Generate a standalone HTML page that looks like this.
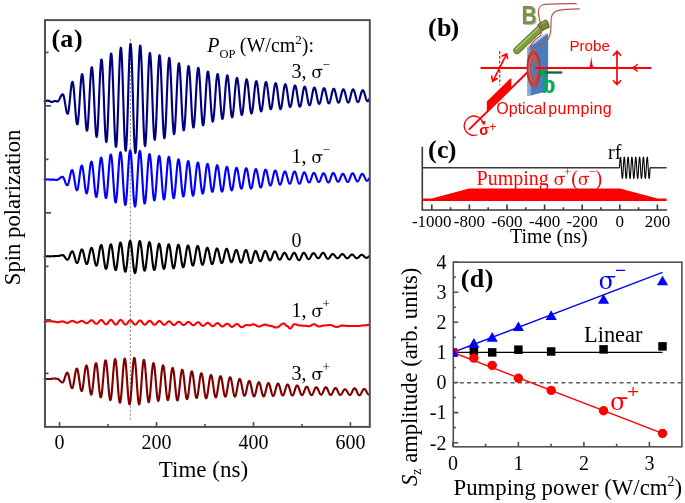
<!DOCTYPE html>
<html><head><meta charset="utf-8"><style>
html,body{margin:0;padding:0;background:#fff;}
svg{display:block;will-change:transform;}
</style></head><body>
<svg width="685" height="503" viewBox="0 0 685 503">
<rect width="685" height="503" fill="#fff"/>
<g fill="none" stroke-linejoin="round" stroke-linecap="round">
<line x1="130.4" y1="39.1" x2="130.4" y2="420.6" stroke="#8a8a8a" stroke-width="1.1" stroke-dasharray="2.1 1.885" stroke-linecap="butt"/>
<path d="M44.60 101.30L44.80 101.29 45.00 101.27 45.20 101.24 45.40 101.20 45.60 101.15 45.80 101.10 46.00 101.03 46.20 100.97 46.40 100.90 46.60 100.84 46.80 100.77 47.00 100.72 47.20 100.67 47.40 100.64 47.60 100.61 47.80 100.60 47.90 100.60 48.10 100.61 48.30 100.63 48.50 100.68 48.70 100.73 48.90 100.81 49.10 100.89 49.30 100.98 49.50 101.08 49.70 101.19 49.90 101.30 50.10 101.41 50.30 101.52 50.50 101.62 50.70 101.71 50.90 101.79 51.10 101.87 51.30 101.92 51.50 101.97 51.70 101.99 51.90 102.00 52.10 101.99 52.30 101.96 52.50 101.91 52.70 101.84 52.90 101.76 53.10 101.67 53.30 101.58 53.50 101.47 53.70 101.37 53.90 101.28 54.10 101.19 54.30 101.12 54.50 101.06 54.70 101.02 54.90 101.00 55.00 101.00 55.20 101.01 55.40 101.04 55.60 101.08 55.80 101.13 56.00 101.20 56.20 101.27 56.40 101.33 56.60 101.39 56.80 101.44 57.00 101.48 57.20 101.50 57.30 101.50 57.50 101.48 57.70 101.41 57.90 101.29 58.10 101.13 58.30 100.93 58.50 100.69 58.70 100.41 58.90 100.10 59.10 99.76 59.30 99.40 59.50 99.02 59.70 98.62 59.90 98.21 60.10 97.81 60.30 97.40 60.50 97.00 60.70 96.61 60.90 96.23 61.10 95.88 61.30 95.56 61.50 95.27 61.70 95.01 61.90 94.79 62.10 94.61 62.30 94.47 62.50 94.38 62.70 94.33 62.79 94.33 62.99 94.41 63.19 94.66 63.39 95.06 63.59 95.61 63.79 96.31 63.99 97.14 64.19 98.08 64.39 99.12 64.59 100.25 64.79 101.44 64.99 102.68 65.19 103.94 65.39 105.20 65.59 106.44 65.79 107.64 65.99 108.78 66.19 109.84 66.39 110.81 66.59 111.66 66.79 112.38 66.99 112.96 67.19 113.39 67.39 113.67 67.59 113.78 67.63 113.79 67.83 113.65 68.03 113.25 68.23 112.59 68.43 111.67 68.63 110.53 68.83 109.17 69.03 107.62 69.23 105.90 69.43 104.04 69.63 102.09 69.83 100.05 70.03 97.98 70.23 95.91 70.43 93.87 70.63 91.89 70.83 90.01 71.03 88.27 71.23 86.68 71.43 85.28 71.63 84.10 71.83 83.14 72.03 82.43 72.23 81.98 72.43 81.79 72.47 81.78 72.67 81.96 72.87 82.50 73.07 83.38 73.27 84.60 73.47 86.12 73.67 87.93 73.87 90.00 74.07 92.29 74.27 94.76 74.47 97.36 74.67 100.07 74.87 102.83 75.07 105.59 75.27 108.31 75.47 110.94 75.67 113.44 75.87 115.76 76.07 117.87 76.27 119.74 76.47 121.32 76.67 122.59 76.87 123.54 77.07 124.14 77.27 124.39 77.31 124.40 77.51 124.18 77.71 123.55 77.91 122.51 78.11 121.08 78.31 119.28 78.51 117.14 78.71 114.70 78.91 112.00 79.11 109.08 79.31 106.00 79.51 102.81 79.71 99.55 79.91 96.29 80.11 93.08 80.31 89.97 80.51 87.02 80.71 84.28 80.91 81.78 81.11 79.59 81.31 77.72 81.51 76.21 81.71 75.09 81.91 74.38 82.11 74.09 82.15 74.08 82.35 74.32 82.55 75.03 82.75 76.21 82.95 77.82 83.15 79.85 83.35 82.25 83.55 85.00 83.75 88.04 83.95 91.32 84.15 94.79 84.35 98.38 84.55 102.05 84.75 105.72 84.95 109.33 85.15 112.83 85.35 116.15 85.55 119.24 85.75 122.04 85.95 124.52 86.15 126.62 86.35 128.31 86.55 129.57 86.75 130.37 86.95 130.70 86.98 130.71 87.18 130.44 87.38 129.64 87.58 128.33 87.78 126.52 87.98 124.25 88.18 121.55 88.38 118.47 88.58 115.06 88.78 111.38 88.98 107.49 89.18 103.46 89.38 99.35 89.58 95.23 89.78 91.18 89.98 87.26 90.18 83.53 90.38 80.07 90.58 76.92 90.78 74.15 90.98 71.79 91.18 69.89 91.38 68.48 91.58 67.58 91.78 67.21 91.82 67.20 92.02 67.50 92.22 68.37 92.42 69.81 92.62 71.80 92.82 74.29 93.02 77.26 93.22 80.64 93.42 84.38 93.62 88.41 93.82 92.68 94.02 97.11 94.22 101.61 94.42 106.13 94.62 110.58 94.82 114.88 95.02 118.96 95.22 122.77 95.42 126.22 95.62 129.26 95.82 131.85 96.02 133.94 96.22 135.48 96.42 136.47 96.62 136.87 96.66 136.88 96.86 136.56 97.06 135.59 97.26 133.98 97.46 131.78 97.66 129.01 97.86 125.72 98.06 121.96 98.26 117.81 98.46 113.32 98.66 108.58 98.86 103.67 99.06 98.66 99.26 93.64 99.46 88.70 99.66 83.92 99.86 79.38 100.06 75.16 100.26 71.33 100.46 67.94 100.66 65.07 100.86 62.75 101.06 61.03 101.26 59.94 101.46 59.49 101.50 59.48 101.70 59.83 101.90 60.86 102.10 62.57 102.30 64.92 102.50 67.87 102.70 71.38 102.90 75.38 103.10 79.81 103.30 84.59 103.50 89.64 103.70 94.88 103.90 100.22 104.10 105.56 104.30 110.82 104.50 115.92 104.70 120.76 104.90 125.26 105.10 129.35 105.30 132.95 105.50 136.01 105.70 138.48 105.90 140.31 106.10 141.48 106.30 141.96 106.34 141.97 106.54 141.60 106.74 140.49 106.94 138.66 107.14 136.13 107.34 132.97 107.54 129.20 107.74 124.91 107.94 120.16 108.14 115.03 108.34 109.62 108.54 104.00 108.74 98.27 108.94 92.54 109.14 86.89 109.34 81.43 109.54 76.24 109.74 71.41 109.94 67.02 110.14 63.16 110.34 59.87 110.54 57.22 110.74 55.26 110.94 54.01 111.14 53.49 111.17 53.48 111.37 53.87 111.57 55.04 111.77 56.98 111.97 59.64 112.17 62.98 112.37 66.95 112.57 71.48 112.77 76.49 112.97 81.90 113.17 87.62 113.37 93.55 113.57 99.60 113.77 105.65 113.97 111.61 114.17 117.37 114.37 122.85 114.57 127.94 114.77 132.57 114.97 136.65 115.17 140.12 115.37 142.91 115.57 144.99 115.77 146.31 115.97 146.85 116.01 146.87 116.21 146.45 116.41 145.20 116.61 143.15 116.81 140.33 117.01 136.78 117.21 132.57 117.41 127.76 117.61 122.45 117.81 116.70 118.01 110.64 118.21 104.34 118.41 97.93 118.61 91.51 118.81 85.19 119.01 79.07 119.21 73.26 119.41 67.86 119.61 62.95 119.81 58.61 120.01 54.94 120.21 51.97 120.41 49.77 120.61 48.37 120.81 47.80 120.85 47.78 121.05 48.21 121.25 49.51 121.45 51.64 121.65 54.57 121.85 58.25 122.05 62.63 122.25 67.62 122.45 73.14 122.65 79.11 122.85 85.41 123.05 91.95 123.25 98.61 123.45 105.28 123.65 111.84 123.85 118.20 124.05 124.23 124.25 129.85 124.45 134.95 124.65 139.45 124.85 143.27 125.05 146.35 125.25 148.64 125.45 150.09 125.65 150.69 125.69 150.70 125.89 150.25 126.09 148.91 126.29 146.70 126.49 143.66 126.69 139.84 126.89 135.30 127.09 130.12 127.29 124.39 127.49 118.20 127.69 111.66 127.89 104.88 128.09 97.97 128.29 91.05 128.49 84.24 128.69 77.64 128.89 71.38 129.09 65.55 129.29 60.26 129.49 55.60 129.69 51.63 129.89 48.44 130.09 46.06 130.29 44.56 130.49 43.94 130.53 43.92 130.73 44.38 130.93 45.75 131.13 48.01 131.33 51.12 131.53 55.02 131.73 59.66 131.93 64.95 132.13 70.80 132.33 77.13 132.53 83.81 132.73 90.73 132.93 97.79 133.13 104.86 133.33 111.82 133.53 118.56 133.73 124.96 133.93 130.91 134.13 136.31 134.33 141.08 134.53 145.13 134.73 148.40 134.93 150.82 135.13 152.36 135.33 152.99 135.36 153.01 135.56 152.56 135.76 151.21 135.96 148.98 136.16 145.92 136.36 142.07 136.56 137.50 136.76 132.28 136.96 126.51 137.16 120.28 137.36 113.69 137.56 106.86 137.76 99.91 137.96 92.94 138.16 86.08 138.36 79.44 138.56 73.13 138.76 67.26 138.96 61.94 139.16 57.24 139.36 53.24 139.56 50.03 139.76 47.64 139.96 46.12 140.16 45.49 140.20 45.48 140.40 45.90 140.60 47.16 140.80 49.25 141.00 52.11 141.20 55.71 141.40 59.99 141.60 64.86 141.80 70.26 142.00 76.09 142.20 82.25 142.40 88.63 142.60 95.14 142.80 101.66 143.00 108.07 143.20 114.28 143.40 120.18 143.60 125.67 143.80 130.65 144.00 135.05 144.20 138.78 144.40 141.79 144.60 144.02 144.80 145.44 145.00 146.03 145.04 146.04 145.24 145.65 145.44 144.48 145.64 142.55 145.84 139.90 146.04 136.57 146.24 132.61 146.44 128.09 146.64 123.09 146.84 117.70 147.04 111.99 147.24 106.08 147.44 100.06 147.64 94.02 147.84 88.08 148.04 82.33 148.24 76.87 148.44 71.79 148.64 67.17 148.84 63.10 149.04 59.64 149.24 56.86 149.44 54.79 149.64 53.47 149.84 52.93 149.88 52.92 150.08 53.28 150.28 54.37 150.48 56.17 150.68 58.65 150.88 61.76 151.08 65.45 151.28 69.66 151.48 74.32 151.68 79.36 151.88 84.68 152.08 90.19 152.28 95.81 152.48 101.44 152.68 106.98 152.88 112.35 153.08 117.44 153.28 122.18 153.48 126.49 153.68 130.28 153.88 133.51 154.08 136.11 154.28 138.04 154.48 139.26 154.68 139.77 154.72 139.78 154.92 139.42 155.12 138.36 155.32 136.61 155.52 134.19 155.72 131.16 155.92 127.56 156.12 123.45 156.32 118.91 156.52 114.00 156.72 108.82 156.92 103.44 157.12 97.96 157.32 92.47 157.52 87.07 157.72 81.84 157.92 76.87 158.12 72.25 158.32 68.05 158.52 64.35 158.72 61.21 158.92 58.67 159.12 56.79 159.32 55.59 159.52 55.10 159.55 55.09 159.75 55.44 159.95 56.48 160.15 58.20 160.35 60.57 160.55 63.54 160.75 67.07 160.95 71.10 161.15 75.56 161.35 80.38 161.55 85.46 161.75 90.74 161.95 96.11 162.15 101.50 162.35 106.80 162.55 111.93 162.75 116.80 162.95 121.33 163.15 125.45 163.35 129.08 163.55 132.16 163.75 134.65 163.95 136.49 164.15 137.67 164.35 138.15 164.39 138.16 164.59 137.82 164.79 136.82 164.99 135.15 165.19 132.86 165.39 129.99 165.59 126.57 165.79 122.68 165.99 118.37 166.19 113.71 166.39 108.79 166.59 103.69 166.79 98.49 166.99 93.29 167.19 88.16 167.39 83.20 167.59 78.49 167.79 74.10 167.99 70.12 168.19 66.61 168.39 63.63 168.59 61.23 168.79 59.44 168.99 58.31 169.19 57.84 169.23 57.83 169.43 58.15 169.63 59.11 169.83 60.69 170.03 62.87 170.23 65.61 170.43 68.86 170.63 72.56 170.83 76.67 171.03 81.10 171.23 85.78 171.43 90.63 171.63 95.58 171.83 100.53 172.03 105.41 172.23 110.13 172.43 114.61 172.63 118.79 172.83 122.57 173.03 125.91 173.23 128.75 173.43 131.04 173.63 132.74 173.83 133.82 174.03 134.26 174.07 134.27 174.27 133.97 174.47 133.08 174.67 131.61 174.87 129.59 175.07 127.04 175.27 124.02 175.47 120.58 175.67 116.77 175.87 112.65 176.07 108.30 176.27 103.79 176.47 99.19 176.67 94.59 176.87 90.05 177.07 85.67 177.27 81.50 177.47 77.62 177.67 74.10 177.87 71.00 178.07 68.36 178.27 66.24 178.47 64.66 178.67 63.65 178.87 63.24 178.91 63.23 179.11 63.51 179.31 64.36 179.51 65.75 179.71 67.66 179.91 70.07 180.11 72.92 180.31 76.18 180.51 79.79 180.71 83.68 180.91 87.80 181.11 92.06 181.31 96.41 181.51 100.77 181.71 105.05 181.91 109.20 182.11 113.14 182.31 116.81 182.51 120.14 182.71 123.08 182.91 125.57 183.11 127.58 183.31 129.07 183.51 130.02 183.71 130.41 183.74 130.42 183.94 130.15 184.14 129.34 184.34 128.01 184.54 126.18 184.74 123.87 184.94 121.13 185.14 118.01 185.34 114.55 185.54 110.82 185.74 106.88 185.94 102.79 186.14 98.63 186.34 94.45 186.54 90.35 186.74 86.37 186.94 82.59 187.14 79.08 187.34 75.89 187.54 73.08 187.74 70.69 187.94 68.76 188.14 67.33 188.34 66.42 188.54 66.05 188.58 66.04 188.78 66.30 188.98 67.07 189.18 68.34 189.38 70.09 189.58 72.30 189.78 74.91 189.98 77.90 190.18 81.20 190.38 84.76 190.58 88.53 190.78 92.44 190.98 96.42 191.18 100.40 191.38 104.33 191.58 108.13 191.78 111.73 191.98 115.09 192.18 118.14 192.38 120.83 192.58 123.11 192.78 124.95 192.98 126.32 193.18 127.19 193.38 127.54 193.42 127.55 193.62 127.30 193.82 126.55 194.02 125.31 194.22 123.61 194.42 121.47 194.62 118.92 194.82 116.02 195.02 112.81 195.22 109.35 195.42 105.68 195.62 101.89 195.82 98.02 196.02 94.14 196.22 90.32 196.42 86.63 196.62 83.12 196.82 79.86 197.02 76.90 197.22 74.28 197.42 72.06 197.62 70.27 197.82 68.94 198.02 68.10 198.22 67.75 198.26 67.74 198.46 67.98 198.66 68.71 198.86 69.90 199.06 71.54 199.26 73.60 199.46 76.05 199.66 78.85 199.86 81.94 200.06 85.28 200.26 88.81 200.46 92.47 200.66 96.20 200.86 99.93 201.06 103.61 201.26 107.17 201.46 110.54 201.66 113.69 201.86 116.54 202.06 119.06 202.26 121.20 202.46 122.93 202.66 124.21 202.86 125.02 203.06 125.35 203.10 125.36 203.30 125.14 203.50 124.46 203.70 123.35 203.90 121.81 204.10 119.89 204.30 117.60 204.50 114.99 204.70 112.10 204.90 108.98 205.10 105.69 205.30 102.27 205.50 98.79 205.70 95.30 205.90 91.87 206.10 88.55 206.30 85.39 206.50 82.45 206.70 79.79 206.90 77.44 207.10 75.44 207.30 73.83 207.50 72.63 207.70 71.87 207.90 71.56 207.93 71.55 208.13 71.76 208.33 72.39 208.53 73.43 208.73 74.85 208.93 76.64 209.13 78.77 209.33 81.20 209.53 83.88 209.73 86.78 209.93 89.85 210.13 93.02 210.33 96.26 210.53 99.50 210.73 102.70 210.93 105.79 211.13 108.72 211.33 111.45 211.53 113.93 211.73 116.12 211.93 117.98 212.13 119.47 212.33 120.58 212.53 121.29 212.73 121.58 212.77 121.59 212.97 121.39 213.17 120.79 213.37 119.81 213.57 118.45 213.77 116.75 213.97 114.73 214.17 112.43 214.37 109.88 214.57 107.13 214.77 104.22 214.97 101.20 215.17 98.13 215.37 95.05 215.57 92.01 215.77 89.08 215.97 86.29 216.17 83.70 216.37 81.35 216.57 79.27 216.77 77.51 216.97 76.08 217.17 75.03 217.37 74.36 217.57 74.08 217.61 74.07 217.81 74.26 218.01 74.83 218.21 75.76 218.41 77.03 218.61 78.64 218.81 80.54 219.01 82.72 219.21 85.13 219.41 87.72 219.61 90.47 219.81 93.32 220.01 96.22 220.21 99.12 220.41 101.98 220.61 104.75 220.81 107.38 221.01 109.83 221.21 112.05 221.41 114.01 221.61 115.68 221.81 117.02 222.01 118.01 222.21 118.65 222.41 118.91 222.45 118.91 222.65 118.73 222.85 118.18 223.05 117.28 223.25 116.04 223.45 114.48 223.65 112.63 223.85 110.52 224.05 108.18 224.25 105.66 224.45 102.99 224.65 100.22 224.85 97.41 225.05 94.58 225.25 91.80 225.45 89.12 225.65 86.56 225.85 84.18 226.05 82.03 226.25 80.12 226.45 78.51 226.65 77.20 226.85 76.24 227.05 75.62 227.25 75.37 227.29 75.36 227.49 75.54 227.69 76.06 227.89 76.93 228.09 78.12 228.29 79.62 228.49 81.40 228.69 83.43 228.89 85.68 229.09 88.11 229.29 90.67 229.49 93.33 229.69 96.04 229.89 98.75 230.09 101.42 230.29 104.01 230.49 106.46 230.69 108.75 230.89 110.82 231.09 112.65 231.29 114.21 231.49 115.46 231.69 116.39 231.89 116.98 232.09 117.22 232.12 117.23 232.32 117.06 232.52 116.57 232.72 115.75 232.92 114.63 233.12 113.22 233.32 111.55 233.52 109.64 233.72 107.52 233.92 105.24 234.12 102.83 234.32 100.33 234.52 97.78 234.72 95.22 234.92 92.71 235.12 90.28 235.32 87.97 235.52 85.82 235.72 83.87 235.92 82.15 236.12 80.68 236.32 79.50 236.52 78.63 236.72 78.07 236.92 77.84 236.96 77.84 237.16 77.99 237.36 78.46 237.56 79.23 237.76 80.28 237.96 81.61 238.16 83.19 238.36 84.99 238.56 86.98 238.76 89.13 238.96 91.40 239.16 93.75 239.36 96.15 239.56 98.56 239.76 100.92 239.96 103.21 240.16 105.39 240.36 107.41 240.56 109.25 240.76 110.87 240.96 112.25 241.16 113.36 241.36 114.18 241.56 114.70 241.76 114.92 241.80 114.92 242.00 114.77 242.20 114.33 242.40 113.59 242.60 112.58 242.80 111.30 243.00 109.79 243.20 108.07 243.40 106.16 243.60 104.09 243.80 101.92 244.00 99.66 244.20 97.35 244.40 95.05 244.60 92.78 244.80 90.58 245.00 88.49 245.20 86.55 245.40 84.79 245.60 83.24 245.80 81.91 246.00 80.85 246.20 80.06 246.40 79.56 246.60 79.35 246.64 79.34 246.84 79.49 247.04 79.92 247.24 80.63 247.44 81.60 247.64 82.82 247.84 84.28 248.04 85.93 248.24 87.77 248.44 89.75 248.64 91.84 248.84 94.02 249.04 96.23 249.24 98.44 249.44 100.62 249.64 102.74 249.84 104.74 250.04 106.61 250.24 108.30 250.44 109.79 250.64 111.06 250.84 112.09 251.04 112.85 251.24 113.33 251.44 113.53 251.48 113.53 251.68 113.40 251.88 112.99 252.08 112.32 252.28 111.40 252.48 110.24 252.68 108.86 252.88 107.29 253.08 105.56 253.28 103.68 253.48 101.70 253.68 99.64 253.88 97.55 254.08 95.45 254.28 93.39 254.48 91.39 254.68 89.49 254.88 87.72 255.08 86.12 255.28 84.70 255.48 83.50 255.68 82.53 255.88 81.81 256.08 81.36 256.28 81.17 256.31 81.16 256.51 81.29 256.71 81.67 256.91 82.30 257.11 83.15 257.31 84.23 257.51 85.52 257.71 86.98 257.91 88.60 258.11 90.35 258.31 92.20 258.51 94.11 258.71 96.06 258.91 98.02 259.11 99.94 259.31 101.81 259.51 103.58 259.71 105.22 259.91 106.72 260.11 108.03 260.31 109.16 260.51 110.06 260.71 110.73 260.91 111.15 261.11 111.33 261.15 111.33 261.35 111.21 261.55 110.84 261.75 110.23 261.95 109.40 262.15 108.35 262.35 107.10 262.55 105.68 262.75 104.10 262.95 102.40 263.15 100.61 263.35 98.75 263.55 96.85 263.75 94.95 263.95 93.07 264.15 91.26 264.35 89.54 264.55 87.94 264.75 86.49 264.95 85.21 265.15 84.12 265.35 83.24 265.55 82.59 265.75 82.17 265.95 82.00 265.99 82.00 266.19 82.11 266.39 82.46 266.59 83.02 266.79 83.80 266.99 84.77 267.19 85.93 267.39 87.25 267.59 88.71 267.79 90.29 267.99 91.96 268.19 93.69 268.39 95.45 268.59 97.22 268.79 98.95 268.99 100.64 269.19 102.23 269.39 103.72 269.59 105.07 269.79 106.26 269.99 107.27 270.19 108.09 270.39 108.69 270.59 109.07 270.79 109.23 270.83 109.24 271.03 109.13 271.23 108.80 271.43 108.26 271.63 107.52 271.83 106.58 272.03 105.48 272.23 104.21 272.43 102.81 272.63 101.30 272.83 99.71 273.03 98.05 273.23 96.37 273.43 94.68 273.63 93.01 273.83 91.40 274.03 89.87 274.23 88.45 274.43 87.16 274.63 86.02 274.83 85.05 275.03 84.27 275.23 83.70 275.43 83.33 275.63 83.18 275.67 83.17 275.87 83.28 276.07 83.61 276.27 84.15 276.47 84.89 276.67 85.82 276.87 86.93 277.07 88.19 277.27 89.59 277.47 91.09 277.67 92.69 277.87 94.34 278.07 96.02 278.27 97.71 278.47 99.37 278.67 100.98 278.87 102.51 279.07 103.93 279.27 105.22 279.47 106.35 279.67 107.32 279.87 108.10 280.07 108.68 280.27 109.04 280.47 109.20 280.50 109.20 280.70 109.09 280.90 108.78 281.10 108.26 281.30 107.55 281.50 106.65 281.70 105.59 281.90 104.38 282.10 103.04 282.30 101.59 282.50 100.06 282.70 98.47 282.90 96.85 283.10 95.23 283.30 93.63 283.50 92.09 283.70 90.62 283.90 89.26 284.10 88.02 284.30 86.93 284.50 86.00 284.70 85.25 284.90 84.70 285.10 84.34 285.30 84.20 285.34 84.19 285.54 84.29 285.74 84.58 285.94 85.05 286.14 85.70 286.34 86.52 286.54 87.48 286.74 88.59 286.94 89.82 287.14 91.14 287.34 92.53 287.54 93.98 287.74 95.46 287.94 96.94 288.14 98.39 288.34 99.80 288.54 101.14 288.74 102.38 288.94 103.51 289.14 104.51 289.34 105.36 289.54 106.04 289.74 106.55 289.94 106.87 290.14 107.00 290.18 107.00 290.38 106.91 290.58 106.64 290.78 106.20 290.98 105.59 291.18 104.82 291.38 103.90 291.58 102.86 291.78 101.71 291.98 100.46 292.18 99.14 292.38 97.78 292.58 96.39 292.78 94.99 292.98 93.62 293.18 92.29 293.38 91.03 293.58 89.86 293.78 88.79 293.98 87.85 294.18 87.06 294.38 86.41 294.58 85.93 294.78 85.63 294.98 85.51 295.02 85.50 295.22 85.59 295.42 85.86 295.62 86.30 295.82 86.90 296.02 87.66 296.22 88.56 296.42 89.59 296.62 90.72 296.82 91.95 297.02 93.25 297.22 94.60 297.42 95.97 297.62 97.34 297.82 98.69 298.02 100.00 298.22 101.24 298.42 102.40 298.62 103.45 298.82 104.37 299.02 105.16 299.22 105.80 299.42 106.27 299.62 106.57 299.82 106.69 299.86 106.69 300.06 106.61 300.26 106.36 300.46 105.94 300.66 105.37 300.86 104.65 301.06 103.80 301.26 102.83 301.46 101.76 301.66 100.60 301.86 99.37 302.06 98.10 302.26 96.80 302.46 95.50 302.66 94.23 302.86 92.99 303.06 91.81 303.26 90.72 303.46 89.73 303.66 88.85 303.86 88.11 304.06 87.51 304.26 87.07 304.46 86.78 304.66 86.67 304.69 86.66 304.89 86.74 305.09 86.98 305.29 87.36 305.49 87.89 305.69 88.56 305.89 89.35 306.09 90.25 306.29 91.25 306.49 92.33 306.69 93.47 306.89 94.65 307.09 95.85 307.29 97.06 307.49 98.24 307.69 99.39 307.89 100.48 308.09 101.50 308.29 102.42 308.49 103.23 308.69 103.92 308.89 104.48 309.09 104.89 309.29 105.16 309.49 105.26 309.53 105.27 309.73 105.19 309.93 104.97 310.13 104.60 310.33 104.09 310.53 103.46 310.73 102.70 310.93 101.84 311.13 100.89 311.33 99.86 311.53 98.77 311.73 97.64 311.93 96.50 312.13 95.34 312.33 94.21 312.53 93.11 312.73 92.07 312.93 91.10 313.13 90.22 313.33 89.45 313.53 88.79 313.73 88.26 313.93 87.86 314.13 87.61 314.33 87.51 314.37 87.50 314.57 87.57 314.77 87.78 314.97 88.12 315.17 88.59 315.37 89.17 315.57 89.87 315.77 90.66 315.97 91.54 316.17 92.49 316.37 93.50 316.57 94.54 316.77 95.60 316.97 96.66 317.17 97.70 317.37 98.71 317.57 99.68 317.77 100.57 317.97 101.38 318.17 102.10 318.37 102.71 318.57 103.20 318.77 103.56 318.97 103.79 319.17 103.89 319.21 103.89 319.41 103.82 319.61 103.63 319.81 103.30 320.01 102.85 320.21 102.29 320.41 101.62 320.61 100.86 320.81 100.02 321.01 99.11 321.21 98.14 321.41 97.15 321.61 96.13 321.81 95.11 322.01 94.11 322.21 93.14 322.41 92.22 322.61 91.36 322.81 90.58 323.01 89.89 323.21 89.31 323.41 88.84 323.61 88.49 323.81 88.27 324.01 88.18 324.05 88.18 324.25 88.24 324.45 88.43 324.65 88.75 324.85 89.18 325.05 89.72 325.25 90.37 325.45 91.11 325.65 91.93 325.85 92.81 326.05 93.74 326.25 94.71 326.45 95.69 326.65 96.68 326.85 97.65 327.05 98.59 327.25 99.48 327.45 100.31 327.65 101.06 327.85 101.73 328.05 102.29 328.25 102.75 328.45 103.09 328.65 103.30 328.85 103.39 328.88 103.39 329.08 103.33 329.28 103.15 329.48 102.84 329.68 102.42 329.88 101.90 330.08 101.27 330.28 100.56 330.48 99.77 330.68 98.92 330.88 98.02 331.08 97.09 331.28 96.14 331.48 95.19 331.68 94.25 331.88 93.34 332.08 92.48 332.28 91.68 332.48 90.95 332.68 90.31 332.88 89.76 333.08 89.32 333.28 89.00 333.48 88.79 333.68 88.70 333.72 88.70 333.92 88.76 334.12 88.93 334.32 89.22 334.52 89.62 334.72 90.12 334.92 90.71 335.12 91.38 335.32 92.13 335.52 92.93 335.72 93.78 335.92 94.67 336.12 95.56 336.32 96.47 336.52 97.35 336.72 98.21 336.92 99.03 337.12 99.78 337.32 100.47 337.52 101.08 337.72 101.60 337.92 102.01 338.12 102.32 338.32 102.52 338.52 102.60 338.56 102.60 338.76 102.54 338.96 102.38 339.16 102.10 339.36 101.72 339.56 101.25 339.76 100.68 339.96 100.04 340.16 99.32 340.36 98.55 340.56 97.74 340.76 96.89 340.96 96.03 341.16 95.17 341.36 94.32 341.56 93.50 341.76 92.72 341.96 91.99 342.16 91.34 342.36 90.75 342.56 90.26 342.76 89.86 342.96 89.57 343.16 89.38 343.36 89.30 343.40 89.30 343.60 89.36 343.80 89.52 344.00 89.80 344.20 90.18 344.40 90.65 344.60 91.21 344.80 91.86 345.00 92.57 345.20 93.34 345.40 94.15 345.60 95.00 345.80 95.85 346.00 96.71 346.20 97.56 346.40 98.38 346.60 99.16 346.80 99.88 347.00 100.54 347.20 101.12 347.40 101.61 347.60 102.01 347.80 102.31 348.00 102.49 348.20 102.57 348.24 102.57 348.44 102.52 348.64 102.35 348.84 102.08 349.04 101.70 349.24 101.23 349.44 100.66 349.64 100.02 349.84 99.31 350.04 98.55 350.24 97.74 350.44 96.90 350.64 96.04 350.84 95.19 351.04 94.34 351.24 93.53 351.44 92.75 351.64 92.03 351.84 91.38 352.04 90.80 352.24 90.31 352.44 89.91 352.64 89.62 352.84 89.43 353.04 89.36 353.07 89.35 353.27 89.41 353.47 89.57 353.67 89.83 353.87 90.19 354.07 90.65 354.27 91.18 354.47 91.80 354.67 92.48 354.87 93.22 355.07 93.99 355.27 94.80 355.47 95.62 355.67 96.45 355.87 97.26 356.07 98.04 356.27 98.78 356.47 99.48 356.67 100.11 356.87 100.66 357.07 101.13 357.27 101.51 357.47 101.79 357.67 101.97 357.87 102.05 357.91 102.05 358.11 102.00 358.31 101.85 358.51 101.61 358.71 101.27 358.91 100.85 359.11 100.34 359.31 99.77 359.51 99.14 359.71 98.45 359.91 97.73 360.11 96.98 360.31 96.21 360.51 95.45 360.71 94.69 360.91 93.97 361.11 93.27 361.31 92.63 361.51 92.04 361.71 91.53 361.91 91.09 362.11 90.73 362.31 90.47 362.51 90.30 362.71 90.24 362.75 90.23 362.95 90.28 363.15 90.42 363.35 90.65 363.55 90.96 363.75 91.36 363.95 91.83 364.15 92.36 364.35 92.96 364.55 93.60 364.75 94.27 364.95 94.98 365.15 95.69 365.35 96.41 365.55 97.11 365.75 97.79 365.95 98.44 366.15 99.04 366.35 99.59 366.55 100.07 366.75 100.48 366.95 100.81 367.15 101.06 367.35 101.22 367.55 101.28 367.59 101.28 367.79 101.24 367.99 101.11 368.19 100.89 368.39 100.59 368.59 100.22 368.79 99.78 368.99 99.27" stroke="#00007f" stroke-width="2.15"/>
<path d="M44.60 179.40L44.80 179.40 45.00 179.40 45.20 179.40 45.40 179.41 45.60 179.41 45.80 179.41 46.00 179.42 46.20 179.42 46.40 179.43 46.60 179.43 46.80 179.44 47.00 179.45 47.20 179.45 47.40 179.46 47.60 179.47 47.80 179.48 48.00 179.49 48.20 179.50 48.40 179.50 48.60 179.51 48.80 179.52 49.00 179.53 49.20 179.54 49.40 179.55 49.60 179.55 49.80 179.56 50.00 179.57 50.20 179.57 50.40 179.58 50.60 179.58 50.80 179.59 51.00 179.59 51.20 179.59 51.40 179.60 51.60 179.60 51.80 179.60 52.00 179.60 52.20 179.60 52.40 179.61 52.60 179.61 52.80 179.62 53.00 179.63 53.20 179.64 53.40 179.66 53.60 179.68 53.80 179.69 54.00 179.71 54.20 179.73 54.40 179.75 54.60 179.77 54.80 179.79 55.00 179.81 55.20 179.83 55.40 179.84 55.60 179.86 55.80 179.87 56.00 179.88 56.20 179.89 56.40 179.89 56.60 179.90 56.80 179.90 57.00 179.89 57.20 179.86 57.40 179.81 57.60 179.75 57.80 179.66 58.00 179.56 58.20 179.45 58.40 179.32 58.60 179.18 58.80 179.02 59.00 178.86 59.20 178.70 59.40 178.52 59.60 178.35 59.80 178.17 60.00 178.00 60.20 177.83 60.40 177.67 60.60 177.51 60.80 177.37 61.00 177.24 61.20 177.12 61.40 177.01 61.60 176.92 61.80 176.85 62.00 176.80 62.20 176.76 62.40 176.74 62.46 176.74 62.66 176.78 62.86 176.89 63.06 177.06 63.26 177.31 63.46 177.61 63.66 177.97 63.86 178.39 64.06 178.84 64.26 179.34 64.46 179.86 64.66 180.40 64.86 180.95 65.06 181.50 65.26 182.04 65.46 182.57 65.66 183.07 65.86 183.53 66.06 183.95 66.26 184.33 66.46 184.64 66.66 184.90 66.86 185.08 67.06 185.20 67.26 185.25 67.30 185.25 67.50 185.19 67.70 185.00 67.90 184.68 68.10 184.25 68.30 183.71 68.50 183.06 68.70 182.33 68.90 181.51 69.10 180.63 69.30 179.70 69.50 178.74 69.70 177.76 69.90 176.77 70.10 175.81 70.30 174.87 70.50 173.98 70.70 173.15 70.90 172.40 71.10 171.74 71.30 171.17 71.50 170.72 71.70 170.39 71.90 170.17 72.10 170.09 72.13 170.08 72.33 170.17 72.53 170.42 72.73 170.84 72.93 171.41 73.13 172.14 73.33 172.99 73.53 173.97 73.73 175.05 73.93 176.22 74.13 177.45 74.33 178.73 74.53 180.04 74.73 181.34 74.93 182.63 75.13 183.87 75.33 185.05 75.53 186.15 75.73 187.15 75.93 188.03 76.13 188.77 76.33 189.38 76.53 189.82 76.73 190.10 76.93 190.22 76.97 190.22 77.17 190.12 77.37 189.81 77.57 189.30 77.77 188.59 77.97 187.71 78.17 186.66 78.37 185.46 78.57 184.14 78.77 182.71 78.97 181.20 79.17 179.63 79.37 178.03 79.57 176.43 79.77 174.86 79.97 173.34 80.17 171.89 80.37 170.54 80.57 169.32 80.77 168.24 80.97 167.33 81.17 166.59 81.37 166.05 81.57 165.70 81.77 165.56 81.80 165.56 82.00 165.67 82.20 166.02 82.40 166.60 82.60 167.40 82.80 168.39 83.00 169.58 83.20 170.93 83.40 172.43 83.60 174.04 83.80 175.75 84.00 177.52 84.20 179.32 84.40 181.13 84.60 182.91 84.80 184.63 85.00 186.26 85.20 187.78 85.40 189.16 85.60 190.38 85.80 191.41 86.00 192.24 86.20 192.86 86.40 193.25 86.60 193.41 86.64 193.41 86.84 193.28 87.04 192.88 87.24 192.22 87.44 191.31 87.64 190.17 87.84 188.82 88.04 187.27 88.24 185.56 88.44 183.72 88.64 181.77 88.84 179.75 89.04 177.68 89.24 175.62 89.44 173.59 89.64 171.62 89.84 169.76 90.04 168.02 90.24 166.44 90.44 165.05 90.64 163.87 90.84 162.92 91.04 162.22 91.24 161.77 91.44 161.59 91.48 161.59 91.68 161.74 91.88 162.18 92.08 162.91 92.28 163.92 92.48 165.19 92.68 166.69 92.88 168.41 93.08 170.30 93.28 172.35 93.48 174.52 93.68 176.77 93.88 179.05 94.08 181.35 94.28 183.60 94.48 185.78 94.68 187.86 94.88 189.79 95.08 191.54 95.28 193.08 95.48 194.39 95.68 195.45 95.88 196.23 96.08 196.72 96.28 196.93 96.31 196.93 96.51 196.77 96.71 196.27 96.91 195.46 97.11 194.34 97.31 192.93 97.51 191.25 97.71 189.35 97.91 187.23 98.11 184.96 98.31 182.55 98.51 180.05 98.71 177.50 98.91 174.95 99.11 172.45 99.31 170.02 99.51 167.71 99.71 165.57 99.91 163.62 100.11 161.90 100.31 160.45 100.51 159.27 100.71 158.40 100.91 157.85 101.11 157.63 101.15 157.62 101.35 157.79 101.55 158.30 101.75 159.14 101.95 160.29 102.15 161.74 102.35 163.47 102.55 165.43 102.75 167.60 102.95 169.95 103.15 172.43 103.35 175.00 103.55 177.62 103.75 180.25 103.95 182.83 104.15 185.33 104.35 187.71 104.55 189.91 104.75 191.92 104.95 193.69 105.15 195.19 105.35 196.40 105.55 197.29 105.75 197.86 105.95 198.09 105.98 198.10 106.18 197.91 106.38 197.37 106.58 196.46 106.78 195.22 106.98 193.66 107.18 191.80 107.38 189.69 107.58 187.34 107.78 184.81 107.98 182.14 108.18 179.37 108.38 176.55 108.58 173.72 108.78 170.94 108.98 168.25 109.18 165.69 109.38 163.31 109.58 161.15 109.78 159.25 109.98 157.63 110.18 156.33 110.38 155.36 110.58 154.75 110.78 154.50 110.82 154.50 111.02 154.70 111.22 155.30 111.42 156.30 111.62 157.66 111.82 159.38 112.02 161.43 112.22 163.76 112.42 166.33 112.62 169.12 112.82 172.06 113.02 175.11 113.22 178.21 113.42 181.33 113.62 184.39 113.82 187.35 114.02 190.17 114.22 192.79 114.42 195.16 114.62 197.26 114.82 199.04 115.02 200.47 115.22 201.53 115.42 202.21 115.62 202.48 115.65 202.49 115.85 202.28 116.05 201.64 116.25 200.60 116.45 199.16 116.65 197.36 116.85 195.22 117.05 192.77 117.25 190.07 117.45 187.15 117.65 184.06 117.85 180.86 118.05 177.60 118.25 174.33 118.45 171.12 118.65 168.01 118.85 165.06 119.05 162.31 119.25 159.81 119.45 157.61 119.65 155.75 119.85 154.24 120.05 153.13 120.25 152.42 120.45 152.13 120.49 152.13 120.69 152.35 120.89 153.01 121.09 154.11 121.29 155.62 121.49 157.51 121.69 159.76 121.89 162.32 122.09 165.16 122.29 168.23 122.49 171.47 122.69 174.83 122.89 178.25 123.09 181.67 123.29 185.05 123.49 188.31 123.69 191.41 123.89 194.30 124.09 196.91 124.29 199.22 124.49 201.18 124.69 202.76 124.89 203.93 125.09 204.67 125.29 204.97 125.33 204.98 125.53 204.75 125.73 204.06 125.93 202.93 126.13 201.37 126.33 199.40 126.53 197.07 126.73 194.42 126.93 191.48 127.13 188.30 127.33 184.94 127.53 181.47 127.73 177.92 127.93 174.37 128.13 170.88 128.33 167.49 128.53 164.28 128.73 161.30 128.93 158.59 129.13 156.19 129.33 154.16 129.53 152.53 129.73 151.32 129.93 150.55 130.13 150.23 130.16 150.23 130.36 150.46 130.56 151.17 130.76 152.34 130.96 153.95 131.16 155.97 131.36 158.36 131.56 161.10 131.76 164.12 131.96 167.39 132.16 170.84 132.36 174.43 132.56 178.07 132.76 181.72 132.96 185.32 133.16 188.80 133.36 192.11 133.56 195.18 133.76 197.97 133.96 200.43 134.16 202.52 134.36 204.20 134.56 205.45 134.76 206.24 134.96 206.56 135.00 206.57 135.20 206.34 135.40 205.64 135.60 204.48 135.80 202.89 136.00 200.90 136.20 198.53 136.40 195.83 136.60 192.84 136.80 189.61 137.00 186.20 137.20 182.66 137.40 179.06 137.60 175.45 137.80 171.89 138.00 168.45 138.20 165.19 138.40 162.15 138.60 159.39 138.80 156.96 139.00 154.90 139.20 153.24 139.40 152.00 139.60 151.22 139.80 150.90 139.83 150.90 140.03 151.12 140.23 151.78 140.43 152.87 140.63 154.37 140.83 156.26 141.03 158.50 141.23 161.06 141.43 163.89 141.63 166.94 141.83 170.17 142.03 173.52 142.23 176.93 142.43 180.34 142.63 183.71 142.83 186.96 143.03 190.05 143.23 192.92 143.43 195.53 143.63 197.83 143.83 199.78 144.03 201.36 144.23 202.52 144.43 203.26 144.63 203.56 144.67 203.57 144.87 203.36 145.07 202.74 145.27 201.72 145.47 200.30 145.67 198.53 145.87 196.42 146.07 194.02 146.27 191.36 146.47 188.49 146.67 185.46 146.87 182.31 147.07 179.11 147.27 175.90 147.47 172.74 147.67 169.68 147.87 166.78 148.07 164.08 148.27 161.62 148.47 159.46 148.67 157.63 148.87 156.15 149.07 155.05 149.27 154.36 149.47 154.07 149.50 154.07 149.70 154.26 149.90 154.84 150.10 155.80 150.30 157.12 150.50 158.78 150.70 160.75 150.90 162.99 151.10 165.48 151.30 168.16 151.50 170.99 151.70 173.93 151.90 176.93 152.10 179.92 152.30 182.88 152.50 185.73 152.70 188.45 152.90 190.97 153.10 193.26 153.30 195.28 153.50 197.00 153.70 198.38 153.90 199.40 154.10 200.05 154.30 200.31 154.34 200.32 154.54 200.13 154.74 199.57 154.94 198.65 155.14 197.39 155.34 195.79 155.54 193.90 155.74 191.75 155.94 189.36 156.14 186.78 156.34 184.06 156.54 181.23 156.74 178.36 156.94 175.47 157.14 172.64 157.34 169.89 157.54 167.29 157.74 164.86 157.94 162.66 158.14 160.72 158.34 159.07 158.54 157.74 158.74 156.76 158.94 156.14 159.14 155.88 159.18 155.88 159.38 156.06 159.58 156.61 159.78 157.51 159.98 158.75 160.18 160.31 160.38 162.16 160.58 164.27 160.78 166.61 160.98 169.14 161.18 171.80 161.38 174.57 161.58 177.39 161.78 180.21 161.98 182.99 162.18 185.67 162.38 188.23 162.58 190.60 162.78 192.76 162.98 194.66 163.18 196.27 163.38 197.57 163.58 198.53 163.78 199.14 163.98 199.39 164.01 199.40 164.21 199.22 164.41 198.68 164.61 197.80 164.81 196.59 165.01 195.06 165.21 193.25 165.41 191.18 165.61 188.89 165.81 186.42 166.01 183.81 166.21 181.10 166.41 178.34 166.61 175.58 166.81 172.86 167.01 170.23 167.21 167.73 167.41 165.41 167.61 163.30 167.81 161.44 168.01 159.86 168.21 158.59 168.41 157.64 168.61 157.04 168.81 156.80 168.85 156.79 169.05 156.97 169.25 157.49 169.45 158.35 169.65 159.53 169.85 161.02 170.05 162.78 170.25 164.79 170.45 167.02 170.65 169.42 170.85 171.96 171.05 174.59 171.25 177.27 171.45 179.96 171.65 182.60 171.85 185.16 172.05 187.59 172.25 189.85 172.45 191.91 172.65 193.72 172.85 195.25 173.05 196.49 173.25 197.41 173.45 197.99 173.65 198.23 173.68 198.23 173.88 198.07 174.08 197.58 174.28 196.77 174.48 195.67 174.68 194.28 174.88 192.62 175.08 190.74 175.28 188.65 175.48 186.40 175.68 184.02 175.88 181.56 176.08 179.04 176.28 176.52 176.48 174.05 176.68 171.65 176.88 169.37 177.08 167.25 177.28 165.33 177.48 163.63 177.68 162.19 177.88 161.04 178.08 160.18 178.28 159.63 178.48 159.41 178.52 159.40 178.72 159.56 178.92 160.03 179.12 160.79 179.32 161.85 179.52 163.18 179.72 164.76 179.92 166.56 180.12 168.55 180.32 170.70 180.52 172.98 180.72 175.33 180.92 177.73 181.12 180.14 181.32 182.51 181.52 184.80 181.72 186.97 181.92 189.00 182.12 190.83 182.32 192.45 182.52 193.83 182.72 194.94 182.92 195.76 183.12 196.28 183.32 196.49 183.35 196.50 183.55 196.35 183.75 195.90 183.95 195.17 184.15 194.16 184.35 192.89 184.55 191.38 184.75 189.67 184.95 187.76 185.15 185.71 185.35 183.54 185.55 181.29 185.75 179.00 185.95 176.71 186.15 174.45 186.35 172.26 186.55 170.19 186.75 168.25 186.95 166.50 187.15 164.96 187.35 163.64 187.55 162.59 187.75 161.80 187.95 161.31 188.15 161.10 188.19 161.10 188.39 161.24 188.59 161.68 188.79 162.39 188.99 163.38 189.19 164.62 189.39 166.09 189.59 167.77 189.79 169.63 189.99 171.63 190.19 173.75 190.39 175.95 190.59 178.19 190.79 180.43 190.99 182.63 191.19 184.77 191.39 186.80 191.59 188.68 191.79 190.40 191.99 191.90 192.19 193.19 192.39 194.22 192.59 194.98 192.79 195.47 192.99 195.67 193.02 195.67 193.22 195.53 193.42 195.12 193.62 194.43 193.82 193.48 194.02 192.29 194.22 190.88 194.42 189.27 194.62 187.49 194.82 185.57 195.02 183.54 195.22 181.43 195.42 179.28 195.62 177.13 195.82 175.02 196.02 172.97 196.22 171.02 196.42 169.21 196.62 167.57 196.82 166.12 197.02 164.89 197.22 163.90 197.42 163.17 197.62 162.70 197.82 162.51 197.86 162.51 198.06 162.64 198.26 163.03 198.46 163.67 198.66 164.56 198.86 165.67 199.06 166.99 199.26 168.50 199.46 170.17 199.66 171.97 199.86 173.87 200.06 175.85 200.26 177.86 200.46 179.87 200.66 181.85 200.86 183.77 201.06 185.59 201.26 187.29 201.46 188.82 201.66 190.18 201.86 191.33 202.06 192.26 202.26 192.95 202.46 193.38 202.66 193.56 202.70 193.56 202.90 193.44 203.10 193.06 203.30 192.45 203.50 191.60 203.70 190.53 203.90 189.27 204.10 187.82 204.30 186.23 204.50 184.50 204.70 182.68 204.90 180.79 205.10 178.86 205.30 176.94 205.50 175.04 205.70 173.20 205.90 171.46 206.10 169.83 206.30 168.36 206.50 167.06 206.70 165.96 206.90 165.07 207.10 164.41 207.30 163.99 207.50 163.82 207.53 163.82 207.73 163.94 207.93 164.29 208.13 164.87 208.33 165.67 208.53 166.67 208.73 167.86 208.93 169.22 209.13 170.72 209.33 172.34 209.53 174.06 209.73 175.83 209.93 177.65 210.13 179.46 210.33 181.25 210.53 182.97 210.73 184.61 210.93 186.14 211.13 187.53 211.33 188.75 211.53 189.79 211.73 190.62 211.93 191.24 212.13 191.63 212.33 191.79 212.37 191.80 212.57 191.68 212.77 191.35 212.97 190.80 213.17 190.04 213.37 189.09 213.57 187.96 213.77 186.67 213.97 185.24 214.17 183.70 214.37 182.07 214.57 180.38 214.77 178.66 214.97 176.94 215.17 175.24 215.37 173.60 215.57 172.04 215.77 170.59 215.97 169.27 216.17 168.11 216.37 167.13 216.57 166.33 216.77 165.75 216.97 165.37 217.17 165.22 217.20 165.22 217.40 165.33 217.60 165.66 217.80 166.21 218.00 166.96 218.20 167.90 218.40 169.02 218.60 170.30 218.80 171.72 219.00 173.25 219.20 174.86 219.40 176.54 219.60 178.24 219.80 179.95 220.00 181.63 220.20 183.26 220.40 184.81 220.60 186.24 220.80 187.55 221.00 188.70 221.20 189.68 221.40 190.46 221.60 191.05 221.80 191.42 222.00 191.57 222.04 191.57 222.24 191.47 222.44 191.15 222.64 190.64 222.84 189.94 223.04 189.05 223.24 188.00 223.44 186.79 223.64 185.46 223.84 184.03 224.04 182.51 224.24 180.94 224.44 179.34 224.64 177.73 224.84 176.15 225.04 174.62 225.24 173.17 225.44 171.82 225.64 170.60 225.84 169.52 226.04 168.60 226.24 167.86 226.44 167.31 226.64 166.96 226.84 166.82 226.87 166.82 227.07 166.92 227.27 167.21 227.47 167.70 227.67 168.37 227.87 169.22 228.07 170.22 228.27 171.36 228.47 172.63 228.67 173.99 228.87 175.43 229.07 176.93 229.27 178.45 229.47 179.98 229.67 181.48 229.87 182.94 230.07 184.32 230.27 185.60 230.47 186.77 230.67 187.80 230.87 188.67 231.07 189.37 231.27 189.89 231.47 190.22 231.67 190.36 231.71 190.36 231.91 190.27 232.11 189.98 232.31 189.51 232.51 188.87 232.71 188.06 232.91 187.10 233.11 186.01 233.31 184.80 233.51 183.49 233.71 182.11 233.91 180.67 234.11 179.21 234.31 177.75 234.51 176.31 234.71 174.92 234.91 173.60 235.11 172.37 235.31 171.25 235.51 170.26 235.71 169.43 235.91 168.75 236.11 168.25 236.31 167.94 236.51 167.81 236.55 167.81 236.75 167.89 236.95 168.16 237.15 168.59 237.35 169.18 237.55 169.92 237.75 170.81 237.95 171.82 238.15 172.94 238.35 174.14 238.55 175.42 238.75 176.74 238.95 178.08 239.15 179.43 239.35 180.76 239.55 182.04 239.75 183.26 239.95 184.40 240.15 185.43 240.35 186.33 240.55 187.11 240.75 187.73 240.95 188.19 241.15 188.48 241.35 188.60 241.38 188.60 241.58 188.51 241.78 188.26 241.98 187.84 242.18 187.25 242.38 186.52 242.58 185.66 242.78 184.67 242.98 183.57 243.18 182.39 243.38 181.14 243.58 179.85 243.78 178.53 243.98 177.21 244.18 175.91 244.38 174.65 244.58 173.45 244.78 172.34 244.98 171.33 245.18 170.44 245.38 169.68 245.58 169.08 245.78 168.63 245.98 168.34 246.18 168.22 246.22 168.22 246.42 168.31 246.62 168.56 246.82 168.98 247.02 169.56 247.22 170.29 247.42 171.16 247.62 172.14 247.82 173.24 248.02 174.42 248.22 175.66 248.42 176.96 248.62 178.27 248.82 179.59 249.02 180.89 249.22 182.15 249.42 183.34 249.62 184.45 249.82 185.46 250.02 186.35 250.22 187.10 250.42 187.71 250.62 188.16 250.82 188.44 251.02 188.56 251.05 188.56 251.25 188.48 251.45 188.24 251.65 187.83 251.85 187.28 252.05 186.58 252.25 185.75 252.45 184.81 252.65 183.76 252.85 182.63 253.05 181.44 253.25 180.20 253.45 178.94 253.65 177.68 253.85 176.43 254.05 175.23 254.25 174.09 254.45 173.03 254.65 172.06 254.85 171.21 255.05 170.49 255.25 169.91 255.45 169.48 255.65 169.20 255.85 169.09 255.89 169.09 256.09 169.17 256.29 169.40 256.49 169.78 256.69 170.31 256.89 170.97 257.09 171.75 257.29 172.65 257.49 173.64 257.69 174.71 257.89 175.84 258.09 177.01 258.29 178.20 258.49 179.40 258.69 180.58 258.89 181.71 259.09 182.80 259.29 183.80 259.49 184.71 259.69 185.52 259.89 186.20 260.09 186.75 260.29 187.16 260.49 187.42 260.69 187.53 260.72 187.53 260.92 187.45 261.12 187.23 261.32 186.86 261.52 186.35 261.72 185.71 261.92 184.95 262.12 184.08 262.32 183.13 262.52 182.09 262.72 181.00 262.92 179.86 263.12 178.70 263.32 177.55 263.52 176.41 263.72 175.30 263.92 174.26 264.12 173.28 264.32 172.40 264.52 171.62 264.72 170.96 264.92 170.42 265.12 170.03 265.32 169.78 265.52 169.68 265.56 169.67 265.76 169.74 265.96 169.94 266.16 170.27 266.36 170.72 266.56 171.29 266.76 171.96 266.96 172.73 267.16 173.58 267.36 174.50 267.56 175.47 267.76 176.48 267.96 177.51 268.16 178.53 268.36 179.55 268.56 180.52 268.76 181.45 268.96 182.32 269.16 183.10 269.36 183.79 269.56 184.38 269.76 184.86 269.96 185.21 270.16 185.43 270.36 185.52 270.40 185.52 270.60 185.46 270.80 185.27 271.00 184.96 271.20 184.53 271.40 184.00 271.60 183.36 271.80 182.63 272.00 181.83 272.20 180.96 272.40 180.04 272.60 179.09 272.80 178.12 273.00 177.15 273.20 176.19 273.40 175.27 273.60 174.39 273.80 173.58 274.00 172.83 274.20 172.18 274.40 171.62 274.60 171.18 274.80 170.85 275.00 170.64 275.20 170.55 275.23 170.55 275.43 170.61 275.63 170.78 275.83 171.08 276.03 171.48 276.23 171.98 276.43 172.58 276.63 173.27 276.83 174.02 277.03 174.84 277.23 175.70 277.43 176.60 277.63 177.51 277.83 178.43 278.03 179.32 278.23 180.20 278.43 181.02 278.63 181.79 278.83 182.49 279.03 183.10 279.23 183.63 279.43 184.05 279.63 184.36 279.83 184.56 280.03 184.64 280.07 184.64 280.27 184.58 280.47 184.42 280.67 184.14 280.87 183.77 281.07 183.29 281.27 182.73 281.47 182.09 281.67 181.38 281.87 180.62 282.07 179.81 282.27 178.97 282.47 178.11 282.67 177.26 282.87 176.42 283.07 175.60 283.27 174.83 283.47 174.11 283.67 173.45 283.87 172.87 284.07 172.39 284.27 171.99 284.47 171.70 284.67 171.51 284.87 171.44 284.90 171.44 285.10 171.49 285.30 171.64 285.50 171.90 285.70 172.25 285.90 172.69 286.10 173.21 286.30 173.81 286.50 174.47 286.70 175.18 286.90 175.93 287.10 176.71 287.30 177.51 287.50 178.31 287.70 179.09 287.90 179.85 288.10 180.57 288.30 181.24 288.50 181.85 288.70 182.39 288.90 182.84 289.10 183.21 289.30 183.48 289.50 183.65 289.70 183.72 289.74 183.72 289.94 183.67 290.14 183.52 290.34 183.27 290.54 182.92 290.74 182.48 290.94 181.96 291.14 181.37 291.34 180.71 291.54 180.00 291.74 179.25 291.94 178.47 292.14 177.68 292.34 176.89 292.54 176.11 292.74 175.36 292.94 174.64 293.14 173.97 293.34 173.37 293.54 172.83 293.74 172.38 293.94 172.01 294.14 171.74 294.34 171.57 294.54 171.50 294.57 171.50 294.77 171.55 294.97 171.70 295.17 171.96 295.37 172.31 295.57 172.74 295.77 173.26 295.97 173.85 296.17 174.51 296.37 175.22 296.57 175.96 296.77 176.74 296.97 177.53 297.17 178.32 297.37 179.10 297.57 179.85 297.77 180.57 297.97 181.23 298.17 181.84 298.37 182.37 298.57 182.82 298.77 183.19 298.97 183.46 299.17 183.63 299.37 183.70 299.41 183.70 299.61 183.65 299.81 183.51 300.01 183.28 300.21 182.95 300.41 182.55 300.61 182.07 300.81 181.52 301.01 180.91 301.21 180.26 301.41 179.56 301.61 178.84 301.81 178.11 302.01 177.38 302.21 176.66 302.41 175.96 302.61 175.30 302.81 174.68 303.01 174.12 303.21 173.63 303.41 173.21 303.61 172.87 303.81 172.62 304.01 172.46 304.21 172.40 304.25 172.39 304.45 172.44 304.65 172.56 304.85 172.77 305.05 173.06 305.25 173.42 305.45 173.85 305.65 174.34 305.85 174.89 306.05 175.47 306.25 176.09 306.45 176.73 306.65 177.39 306.85 178.04 307.05 178.69 307.25 179.31 307.45 179.90 307.65 180.45 307.85 180.95 308.05 181.39 308.25 181.77 308.45 182.07 308.65 182.29 308.85 182.44 309.05 182.49 309.08 182.50 309.28 182.46 309.48 182.33 309.68 182.14 309.88 181.86 310.08 181.52 310.28 181.11 310.48 180.65 310.68 180.13 310.88 179.57 311.08 178.99 311.28 178.38 311.48 177.76 311.68 177.13 311.88 176.52 312.08 175.93 312.28 175.37 312.48 174.84 312.68 174.37 312.88 173.95 313.08 173.59 313.28 173.31 313.48 173.10 313.68 172.96 313.88 172.91 313.92 172.91 314.12 172.94 314.32 173.06 314.52 173.25 314.72 173.51 314.92 173.83 315.12 174.22 315.32 174.66 315.52 175.15 315.72 175.68 315.92 176.24 316.12 176.82 316.32 177.41 316.52 178.00 316.72 178.58 316.92 179.14 317.12 179.68 317.32 180.17 317.52 180.62 317.72 181.02 317.92 181.36 318.12 181.63 318.32 181.83 318.52 181.96 318.72 182.01 318.75 182.01 318.95 181.98 319.15 181.87 319.35 181.69 319.55 181.44 319.75 181.12 319.95 180.75 320.15 180.33 320.35 179.86 320.55 179.35 320.75 178.82 320.95 178.26 321.15 177.70 321.35 177.13 321.55 176.57 321.75 176.04 321.95 175.52 322.15 175.05 322.35 174.61 322.55 174.23 322.75 173.91 322.95 173.65 323.15 173.46 323.35 173.33 323.55 173.28 323.59 173.28 323.79 173.32 323.99 173.44 324.19 173.63 324.39 173.89 324.59 174.22 324.79 174.61 324.99 175.05 325.19 175.55 325.39 176.08 325.59 176.64 325.79 177.23 325.99 177.82 326.19 178.42 326.39 179.00 326.59 179.57 326.79 180.11 326.99 180.61 327.19 181.06 327.39 181.46 327.59 181.80 327.79 182.08 327.99 182.28 328.19 182.41 328.39 182.46 328.42 182.46 328.62 182.42 328.82 182.31 329.02 182.11 329.22 181.84 329.42 181.50 329.62 181.10 329.82 180.65 330.02 180.14 330.22 179.59 330.42 179.02 330.62 178.42 330.82 177.81 331.02 177.20 331.22 176.60 331.42 176.01 331.62 175.46 331.82 174.95 332.02 174.48 332.22 174.07 332.42 173.72 332.62 173.44 332.82 173.23 333.02 173.10 333.22 173.04 333.26 173.04 333.46 173.08 333.66 173.19 333.86 173.37 334.06 173.62 334.26 173.93 334.46 174.30 334.66 174.72 334.86 175.18 335.06 175.69 335.26 176.22 335.46 176.77 335.66 177.33 335.86 177.89 336.06 178.45 336.26 178.98 336.46 179.49 336.66 179.96 336.86 180.39 337.06 180.77 337.26 181.09 337.46 181.35 337.66 181.55 337.86 181.67 338.06 181.72 338.09 181.72 338.29 181.69 338.49 181.59 338.69 181.42 338.89 181.20 339.09 180.92 339.29 180.59 339.49 180.21 339.69 179.79 339.89 179.33 340.09 178.85 340.29 178.35 340.49 177.84 340.69 177.34 340.89 176.84 341.09 176.35 341.29 175.89 341.49 175.46 341.69 175.08 341.89 174.73 342.09 174.44 342.29 174.21 342.49 174.04 342.69 173.93 342.89 173.88 342.93 173.88 343.13 173.91 343.33 174.02 343.53 174.18 343.73 174.41 343.93 174.70 344.13 175.05 344.33 175.44 344.53 175.87 344.73 176.34 344.93 176.83 345.13 177.35 345.33 177.87 345.53 178.39 345.73 178.91 345.93 179.41 346.13 179.88 346.33 180.32 346.53 180.72 346.73 181.07 346.93 181.37 347.13 181.61 347.33 181.79 347.53 181.91 347.73 181.95 347.77 181.95 347.97 181.92 348.17 181.81 348.37 181.63 348.57 181.38 348.77 181.07 348.97 180.71 349.17 180.29 349.37 179.82 349.57 179.32 349.77 178.79 349.97 178.24 350.17 177.68 350.37 177.12 350.57 176.57 350.77 176.04 350.97 175.53 351.17 175.06 351.37 174.63 351.57 174.25 351.77 173.93 351.97 173.68 352.17 173.48 352.37 173.36 352.57 173.31 352.60 173.31 352.80 173.35 353.00 173.45 353.20 173.61 353.40 173.84 353.60 174.13 353.80 174.48 354.00 174.87 354.20 175.30 354.40 175.77 354.60 176.26 354.80 176.77 355.00 177.30 355.20 177.82 355.40 178.33 355.60 178.83 355.80 179.30 356.00 179.74 356.20 180.14 356.40 180.50 356.60 180.79 356.80 181.03 357.00 181.21 357.20 181.33 357.40 181.37 357.44 181.37 357.64 181.34 357.84 181.25 358.04 181.09 358.24 180.88 358.44 180.61 358.64 180.29 358.84 179.93 359.04 179.53 359.24 179.10 359.44 178.64 359.64 178.16 359.84 177.68 360.04 177.20 360.24 176.72 360.44 176.26 360.64 175.82 360.84 175.41 361.04 175.04 361.24 174.71 361.44 174.44 361.64 174.21 361.84 174.05 362.04 173.94 362.24 173.90 362.27 173.90 362.47 173.93 362.67 174.02 362.87 174.16 363.07 174.36 363.27 174.60 363.47 174.90 363.67 175.23 363.87 175.60 364.07 176.00 364.27 176.42 364.47 176.86 364.67 177.31 364.87 177.75 365.07 178.19 365.27 178.62 365.47 179.02 365.67 179.40 365.87 179.74 366.07 180.04 366.27 180.30 366.47 180.50 366.67 180.66 366.87 180.75 367.07 180.79 367.11 180.79 367.31 180.76 367.51 180.68 367.71 180.54 367.91 180.34 368.11 180.10 368.31 179.81 368.51 179.47 368.71 179.11 368.91 178.71" stroke="#0000ff" stroke-width="2.15"/>
<path d="M44.60 256.20L44.80 256.20 45.00 256.20 45.20 256.20 45.40 256.21 45.60 256.21 45.80 256.21 46.00 256.22 46.20 256.22 46.40 256.23 46.60 256.23 46.80 256.24 47.00 256.24 47.20 256.25 47.40 256.25 47.60 256.26 47.80 256.26 48.00 256.27 48.20 256.28 48.40 256.28 48.60 256.28 48.80 256.29 49.00 256.29 49.20 256.29 49.40 256.30 49.60 256.30 49.80 256.30 50.00 256.30 50.20 256.30 50.40 256.30 50.60 256.30 50.80 256.29 51.00 256.29 51.20 256.28 51.40 256.27 51.60 256.27 51.80 256.26 52.00 256.25 52.20 256.24 52.40 256.23 52.60 256.22 52.80 256.21 53.00 256.20 53.20 256.18 53.40 256.17 53.60 256.16 53.80 256.15 54.00 256.13 54.20 256.12 54.40 256.11 54.60 256.10 54.80 256.09 55.00 256.07 55.20 256.06 55.40 256.05 55.60 256.05 55.80 256.04 56.00 256.03 56.20 256.02 56.40 256.02 56.60 256.01 56.80 256.01 57.00 256.00 57.20 256.00 57.40 256.00 57.50 256.00 57.70 256.00 57.90 255.99 58.10 255.97 58.30 255.95 58.50 255.92 58.70 255.89 58.90 255.86 59.10 255.82 59.30 255.77 59.50 255.73 59.70 255.68 59.90 255.63 60.10 255.58 60.30 255.52 60.50 255.48 60.70 255.43 60.90 255.38 61.10 255.34 61.30 255.30 61.50 255.27 61.70 255.24 61.90 255.21 62.10 255.19 62.30 255.18 62.50 255.17 62.62 255.17 62.82 255.19 63.02 255.25 63.22 255.34 63.42 255.47 63.62 255.63 63.82 255.82 64.02 256.04 64.22 256.28 64.42 256.54 64.62 256.81 64.82 257.10 65.02 257.39 65.22 257.68 65.42 257.96 65.62 258.24 65.82 258.50 66.02 258.74 66.22 258.97 66.42 259.16 66.62 259.32 66.82 259.46 67.02 259.55 67.22 259.61 67.42 259.64 67.44 259.64 67.64 259.60 67.84 259.50 68.04 259.33 68.24 259.09 68.44 258.79 68.64 258.43 68.84 258.03 69.04 257.58 69.24 257.10 69.44 256.59 69.64 256.06 69.84 255.52 70.04 254.99 70.24 254.45 70.44 253.94 70.64 253.46 70.84 253.00 71.04 252.59 71.24 252.23 71.44 251.93 71.64 251.68 71.84 251.50 72.04 251.39 72.24 251.35 72.27 251.35 72.47 251.40 72.67 251.54 72.87 251.78 73.07 252.12 73.27 252.53 73.47 253.03 73.67 253.59 73.87 254.22 74.07 254.89 74.27 255.61 74.47 256.35 74.67 257.10 74.87 257.85 75.07 258.59 75.27 259.31 75.47 259.99 75.67 260.62 75.87 261.19 76.07 261.70 76.27 262.13 76.47 262.47 76.67 262.72 76.87 262.88 77.07 262.94 77.09 262.94 77.29 262.88 77.49 262.71 77.69 262.43 77.89 262.04 78.09 261.56 78.29 260.98 78.49 260.32 78.69 259.59 78.89 258.80 79.09 257.97 79.29 257.11 79.49 256.23 79.69 255.35 79.89 254.49 80.09 253.65 80.29 252.86 80.49 252.12 80.69 251.45 80.89 250.87 81.09 250.37 81.29 249.97 81.49 249.67 81.69 249.49 81.89 249.42 81.91 249.42 82.11 249.48 82.31 249.66 82.51 249.97 82.71 250.38 82.91 250.90 83.11 251.53 83.31 252.23 83.51 253.02 83.71 253.86 83.91 254.76 84.11 255.68 84.31 256.62 84.51 257.57 84.71 258.50 84.91 259.39 85.11 260.25 85.31 261.04 85.51 261.76 85.71 262.39 85.91 262.92 86.11 263.35 86.31 263.67 86.51 263.87 86.71 263.94 86.74 263.94 86.94 263.87 87.14 263.67 87.34 263.34 87.54 262.87 87.74 262.30 87.94 261.61 88.14 260.82 88.34 259.96 88.54 259.02 88.74 258.03 88.94 257.00 89.14 255.96 89.34 254.91 89.54 253.88 89.74 252.89 89.94 251.95 90.14 251.07 90.34 250.27 90.54 249.57 90.74 248.98 90.94 248.51 91.14 248.16 91.34 247.94 91.54 247.85 91.56 247.85 91.76 247.93 91.96 248.15 92.16 248.52 92.36 249.03 92.56 249.68 92.76 250.44 92.96 251.30 93.16 252.27 93.36 253.30 93.56 254.40 93.76 255.53 93.96 256.69 94.16 257.85 94.36 258.98 94.56 260.09 94.76 261.13 94.96 262.10 95.16 262.98 95.36 263.76 95.56 264.41 95.76 264.94 95.96 265.32 96.16 265.57 96.36 265.66 96.38 265.66 96.58 265.57 96.78 265.31 96.98 264.88 97.18 264.29 97.38 263.55 97.58 262.66 97.78 261.66 97.98 260.54 98.18 259.34 98.38 258.07 98.58 256.75 98.78 255.41 98.98 254.07 99.18 252.75 99.38 251.47 99.58 250.26 99.78 249.13 99.98 248.11 100.18 247.21 100.38 246.45 100.58 245.84 100.78 245.39 100.98 245.11 101.18 245.00 101.21 245.00 101.41 245.10 101.61 245.40 101.81 245.90 102.01 246.58 102.21 247.44 102.41 248.46 102.61 249.62 102.81 250.90 103.01 252.29 103.21 253.75 103.41 255.27 103.61 256.82 103.81 258.36 104.01 259.89 104.21 261.36 104.41 262.76 104.61 264.05 104.81 265.23 105.01 266.27 105.21 267.14 105.41 267.85 105.61 268.37 105.81 268.69 106.01 268.82 106.03 268.82 106.23 268.71 106.43 268.40 106.63 267.89 106.83 267.19 107.03 266.31 107.23 265.26 107.43 264.07 107.63 262.74 107.83 261.32 108.03 259.81 108.23 258.25 108.43 256.66 108.63 255.07 108.83 253.50 109.03 251.98 109.23 250.55 109.43 249.21 109.63 248.00 109.83 246.93 110.03 246.03 110.23 245.31 110.43 244.77 110.63 244.44 110.83 244.31 110.86 244.31 111.06 244.42 111.26 244.74 111.46 245.28 111.66 246.02 111.86 246.95 112.06 248.05 112.26 249.30 112.46 250.69 112.66 252.19 112.86 253.77 113.06 255.42 113.26 257.09 113.46 258.76 113.66 260.41 113.86 262.00 114.06 263.51 114.26 264.91 114.46 266.19 114.66 267.31 114.86 268.26 115.06 269.02 115.26 269.58 115.46 269.93 115.66 270.06 115.68 270.06 115.88 269.95 116.08 269.60 116.28 269.03 116.48 268.24 116.68 267.25 116.88 266.08 117.08 264.74 117.28 263.25 117.48 261.65 117.68 259.96 117.88 258.21 118.08 256.43 118.28 254.64 118.48 252.89 118.68 251.19 118.88 249.57 119.08 248.08 119.28 246.72 119.48 245.52 119.68 244.51 119.88 243.70 120.08 243.10 120.28 242.73 120.48 242.58 120.50 242.58 120.70 242.70 120.90 243.07 121.10 243.68 121.30 244.51 121.50 245.56 121.70 246.81 121.90 248.23 122.10 249.80 122.30 251.49 122.50 253.28 122.70 255.14 122.90 257.03 123.10 258.92 123.30 260.79 123.50 262.59 123.70 264.29 123.90 265.88 124.10 267.32 124.30 268.59 124.50 269.66 124.70 270.52 124.90 271.15 125.10 271.55 125.30 271.70 125.33 271.70 125.53 271.57 125.73 271.18 125.93 270.54 126.13 269.66 126.33 268.55 126.53 267.23 126.73 265.72 126.93 264.06 127.13 262.26 127.33 260.36 127.53 258.40 127.73 256.39 127.93 254.39 128.13 252.41 128.33 250.51 128.53 248.70 128.73 247.02 128.93 245.49 129.13 244.15 129.33 243.01 129.53 242.10 129.73 241.43 129.93 241.01 130.13 240.85 130.15 240.85 130.35 240.98 130.55 241.39 130.75 242.06 130.95 242.98 131.15 244.14 131.35 245.52 131.55 247.09 131.75 248.83 131.95 250.71 132.15 252.69 132.35 254.75 132.55 256.84 132.75 258.93 132.95 261.00 133.15 262.99 133.35 264.88 133.55 266.64 133.75 268.23 133.95 269.63 134.15 270.82 134.35 271.77 134.55 272.47 134.75 272.91 134.95 273.08 134.97 273.08 135.17 272.95 135.37 272.54 135.57 271.87 135.77 270.95 135.97 269.80 136.17 268.43 136.37 266.86 136.57 265.13 136.77 263.26 136.97 261.29 137.17 259.25 137.37 257.16 137.57 255.08 137.77 253.03 137.97 251.04 138.17 249.16 138.37 247.41 138.57 245.83 138.77 244.43 138.97 243.25 139.17 242.30 139.37 241.61 139.57 241.17 139.77 241.00 139.80 241.00 140.00 241.13 140.20 241.50 140.40 242.12 140.60 242.97 140.80 244.04 141.00 245.31 141.20 246.76 141.40 248.36 141.60 250.09 141.80 251.91 142.00 253.80 142.20 255.73 142.40 257.66 142.60 259.56 142.80 261.39 143.00 263.14 143.20 264.75 143.40 266.22 143.60 267.51 143.80 268.61 144.00 269.48 144.20 270.13 144.40 270.53 144.60 270.69 144.62 270.69 144.82 270.57 145.02 270.21 145.22 269.62 145.42 268.80 145.62 267.77 145.82 266.55 146.02 265.16 146.22 263.63 146.42 261.97 146.62 260.21 146.82 258.40 147.02 256.55 147.22 254.69 147.42 252.87 147.62 251.11 147.82 249.44 148.02 247.88 148.22 246.47 148.42 245.23 148.62 244.18 148.82 243.34 149.02 242.72 149.22 242.33 149.42 242.18 149.44 242.18 149.64 242.30 149.84 242.65 150.04 243.23 150.24 244.03 150.44 245.03 150.64 246.22 150.84 247.57 151.04 249.07 151.24 250.69 151.44 252.41 151.64 254.18 151.84 255.98 152.04 257.79 152.24 259.57 152.44 261.29 152.64 262.92 152.84 264.44 153.04 265.81 153.24 267.02 153.44 268.05 153.64 268.87 153.84 269.48 154.04 269.86 154.24 270.00 154.27 270.00 154.47 269.89 154.67 269.56 154.87 269.01 155.07 268.26 155.27 267.32 155.47 266.20 155.67 264.92 155.87 263.51 156.07 261.99 156.27 260.37 156.47 258.70 156.67 257.00 156.87 255.30 157.07 253.63 157.27 252.01 157.47 250.47 157.67 249.04 157.87 247.75 158.07 246.61 158.27 245.64 158.47 244.87 158.67 244.30 158.87 243.94 159.07 243.81 159.09 243.80 159.29 243.91 159.49 244.23 159.69 244.75 159.89 245.47 160.09 246.37 160.29 247.44 160.49 248.66 160.69 250.01 160.89 251.47 161.09 253.01 161.29 254.60 161.49 256.23 161.69 257.86 161.89 259.46 162.09 261.01 162.29 262.47 162.49 263.84 162.69 265.08 162.89 266.17 163.09 267.09 163.29 267.83 163.49 268.37 163.69 268.71 163.89 268.84 163.91 268.85 164.11 268.74 164.31 268.43 164.51 267.92 164.71 267.22 164.91 266.33 165.11 265.28 165.31 264.09 165.51 262.76 165.71 261.33 165.91 259.82 166.11 258.26 166.31 256.66 166.51 255.07 166.71 253.49 166.91 251.98 167.11 250.54 167.31 249.20 167.51 247.98 167.71 246.92 167.91 246.01 168.11 245.29 168.31 244.75 168.51 244.42 168.71 244.29 168.74 244.29 168.94 244.39 169.14 244.69 169.34 245.20 169.54 245.89 169.74 246.76 169.94 247.79 170.14 248.96 170.34 250.26 170.54 251.67 170.74 253.15 170.94 254.69 171.14 256.25 171.34 257.82 171.54 259.36 171.74 260.85 171.94 262.27 172.14 263.58 172.34 264.77 172.54 265.82 172.74 266.71 172.94 267.42 173.14 267.95 173.34 268.28 173.54 268.40 173.56 268.41 173.76 268.31 173.96 268.01 174.16 267.52 174.36 266.84 174.56 265.99 174.76 264.98 174.96 263.83 175.16 262.55 175.36 261.18 175.56 259.72 175.76 258.22 175.96 256.68 176.16 255.15 176.36 253.64 176.56 252.18 176.76 250.79 176.96 249.50 177.16 248.34 177.36 247.31 177.56 246.44 177.76 245.74 177.96 245.23 178.16 244.90 178.36 244.78 178.39 244.78 178.59 244.87 178.79 245.16 178.99 245.63 179.19 246.27 179.39 247.08 179.59 248.04 179.79 249.14 179.99 250.35 180.19 251.66 180.39 253.04 180.59 254.47 180.79 255.93 180.99 257.39 181.19 258.83 181.39 260.22 181.59 261.54 181.79 262.76 181.99 263.87 182.19 264.85 182.39 265.68 182.59 266.34 182.79 266.83 182.99 267.14 183.19 267.26 183.21 267.26 183.41 267.17 183.61 266.89 183.81 266.44 184.01 265.81 184.21 265.03 184.41 264.10 184.61 263.04 184.81 261.86 185.01 260.59 185.21 259.25 185.41 257.86 185.61 256.45 185.81 255.03 186.01 253.64 186.21 252.29 186.41 251.02 186.61 249.83 186.81 248.75 187.01 247.81 187.21 247.00 187.41 246.36 187.61 245.89 187.81 245.59 188.01 245.47 188.03 245.47 188.23 245.56 188.43 245.81 188.63 246.23 188.83 246.80 189.03 247.53 189.23 248.38 189.43 249.36 189.63 250.44 189.83 251.61 190.03 252.84 190.23 254.12 190.43 255.42 190.63 256.73 190.83 258.01 191.03 259.25 191.23 260.42 191.43 261.52 191.63 262.51 191.83 263.38 192.03 264.12 192.23 264.71 192.43 265.15 192.63 265.42 192.83 265.53 192.86 265.53 193.06 265.44 193.26 265.20 193.46 264.79 193.66 264.23 193.86 263.53 194.06 262.69 194.26 261.74 194.46 260.68 194.66 259.55 194.86 258.34 195.06 257.10 195.26 255.83 195.46 254.56 195.66 253.31 195.86 252.10 196.06 250.96 196.26 249.89 196.46 248.93 196.66 248.08 196.86 247.36 197.06 246.78 197.26 246.35 197.46 246.09 197.66 245.98 197.68 245.98 197.88 246.06 198.08 246.30 198.28 246.69 198.48 247.23 198.68 247.91 198.88 248.71 199.08 249.63 199.28 250.64 199.48 251.74 199.68 252.90 199.88 254.09 200.08 255.32 200.28 256.54 200.48 257.74 200.68 258.90 200.88 260.01 201.08 261.03 201.28 261.96 201.48 262.78 201.68 263.47 201.88 264.03 202.08 264.44 202.28 264.69 202.48 264.79 202.50 264.79 202.70 264.72 202.90 264.51 203.10 264.15 203.30 263.67 203.50 263.05 203.70 262.33 203.90 261.50 204.10 260.58 204.30 259.60 204.50 258.55 204.70 257.47 204.90 256.37 205.10 255.26 205.30 254.18 205.50 253.13 205.70 252.13 205.90 251.20 206.10 250.37 206.30 249.63 206.50 249.00 206.70 248.50 206.90 248.13 207.10 247.90 207.30 247.81 207.33 247.81 207.53 247.88 207.73 248.08 207.93 248.42 208.13 248.89 208.33 249.47 208.53 250.17 208.73 250.96 208.93 251.84 209.13 252.79 209.33 253.79 209.53 254.82 209.73 255.88 209.93 256.94 210.13 257.98 210.33 258.98 210.53 259.94 210.73 260.82 210.93 261.63 211.13 262.33 211.33 262.93 211.53 263.41 211.73 263.77 211.93 263.99 212.13 264.07 212.15 264.07 212.35 264.01 212.55 263.81 212.75 263.49 212.95 263.04 213.15 262.48 213.35 261.81 213.55 261.05 213.75 260.21 213.95 259.31 214.15 258.35 214.35 257.36 214.55 256.35 214.75 255.33 214.95 254.34 215.15 253.37 215.35 252.46 215.55 251.61 215.75 250.84 215.95 250.17 216.15 249.59 216.35 249.13 216.55 248.79 216.75 248.58 216.95 248.50 216.97 248.50 217.17 248.56 217.37 248.74 217.57 249.05 217.77 249.46 217.97 249.99 218.17 250.61 218.37 251.32 218.57 252.11 218.77 252.96 218.97 253.85 219.17 254.78 219.37 255.73 219.57 256.67 219.77 257.60 219.97 258.50 220.17 259.36 220.37 260.15 220.57 260.87 220.77 261.50 220.97 262.04 221.17 262.47 221.37 262.79 221.57 262.99 221.77 263.06 221.80 263.06 222.00 263.00 222.20 262.82 222.40 262.53 222.60 262.12 222.80 261.61 223.00 261.00 223.20 260.30 223.40 259.53 223.60 258.70 223.80 257.83 224.00 256.92 224.20 255.99 224.40 255.07 224.60 254.16 224.80 253.28 225.00 252.44 225.20 251.66 225.40 250.96 225.60 250.34 225.80 249.82 226.00 249.39 226.20 249.08 226.40 248.89 226.60 248.82 226.62 248.81 226.82 248.87 227.02 249.04 227.22 249.32 227.42 249.70 227.62 250.19 227.82 250.76 228.02 251.41 228.22 252.13 228.42 252.91 228.62 253.74 228.82 254.59 229.02 255.46 229.22 256.33 229.42 257.19 229.62 258.01 229.82 258.80 230.02 259.53 230.22 260.19 230.42 260.77 230.62 261.27 230.82 261.66 231.02 261.95 231.22 262.14 231.42 262.21 231.44 262.21 231.64 262.15 231.84 262.00 232.04 261.75 232.24 261.40 232.44 260.96 232.64 260.43 232.84 259.84 233.04 259.18 233.24 258.47 233.44 257.71 233.64 256.94 233.84 256.14 234.04 255.35 234.24 254.57 234.44 253.81 234.64 253.09 234.84 252.43 235.04 251.82 235.24 251.29 235.44 250.84 235.64 250.48 235.84 250.22 236.04 250.05 236.24 249.98 236.27 249.98 236.47 250.04 236.67 250.20 236.87 250.46 237.07 250.82 237.27 251.28 237.47 251.82 237.67 252.43 237.87 253.11 238.07 253.85 238.27 254.63 238.47 255.43 238.67 256.25 238.87 257.07 239.07 257.88 239.27 258.66 239.47 259.40 239.67 260.09 239.87 260.71 240.07 261.26 240.27 261.73 240.47 262.10 240.67 262.38 240.87 262.55 241.07 262.61 241.09 262.61 241.29 262.56 241.49 262.40 241.69 262.14 241.89 261.78 242.09 261.32 242.29 260.78 242.49 260.17 242.69 259.49 242.89 258.75 243.09 257.98 243.29 257.17 243.49 256.36 243.69 255.54 243.89 254.73 244.09 253.95 244.29 253.21 244.49 252.52 244.69 251.90 244.89 251.35 245.09 250.89 245.29 250.51 245.49 250.24 245.69 250.07 245.89 250.00 245.92 250.00 246.12 250.06 246.32 250.22 246.52 250.49 246.72 250.87 246.92 251.34 247.12 251.90 247.32 252.53 247.52 253.24 247.72 254.00 247.92 254.80 248.12 255.64 248.32 256.49 248.52 257.34 248.72 258.17 248.92 258.98 249.12 259.75 249.32 260.46 249.52 261.10 249.72 261.67 249.92 262.15 250.12 262.54 250.32 262.82 250.52 263.00 250.72 263.07 250.74 263.07 250.94 263.02 251.14 262.87 251.34 262.62 251.54 262.27 251.74 261.84 251.94 261.32 252.14 260.73 252.34 260.08 252.54 259.37 252.74 258.63 252.94 257.86 253.14 257.08 253.34 256.29 253.54 255.52 253.74 254.77 253.94 254.06 254.14 253.40 254.34 252.81 254.54 252.28 254.74 251.83 254.94 251.48 255.14 251.21 255.34 251.05 255.54 250.99 255.56 250.99 255.76 251.03 255.96 251.16 256.16 251.37 256.36 251.66 256.56 252.03 256.76 252.46 256.96 252.96 257.16 253.51 257.36 254.10 257.56 254.73 257.76 255.38 257.96 256.04 258.16 256.70 258.36 257.36 258.56 257.99 258.76 258.58 258.96 259.14 259.16 259.64 259.36 260.09 259.56 260.46 259.76 260.76 259.96 260.98 260.16 261.12 260.36 261.18 260.39 261.18 260.59 261.13 260.79 261.01 260.99 260.79 261.19 260.50 261.39 260.14 261.59 259.70 261.79 259.20 261.99 258.66 262.19 258.06 262.39 257.44 262.59 256.79 262.79 256.13 262.99 255.47 263.19 254.82 263.39 254.19 263.59 253.59 263.79 253.04 263.99 252.53 264.19 252.09 264.39 251.72 264.59 251.41 264.79 251.19 264.99 251.05 265.19 251.00 265.21 251.00 265.41 251.04 265.61 251.16 265.81 251.35 266.01 251.62 266.21 251.96 266.41 252.36 266.61 252.82 266.81 253.33 267.01 253.88 267.21 254.45 267.41 255.05 267.61 255.66 267.81 256.27 268.01 256.87 268.21 257.46 268.41 258.01 268.61 258.52 268.81 258.98 269.01 259.39 269.21 259.74 269.41 260.02 269.61 260.22 269.81 260.35 270.01 260.40 270.03 260.40 270.23 260.36 270.43 260.25 270.63 260.06 270.83 259.80 271.03 259.48 271.23 259.09 271.43 258.65 271.63 258.17 271.83 257.64 272.03 257.09 272.23 256.51 272.43 255.93 272.63 255.35 272.83 254.77 273.03 254.21 273.23 253.69 273.43 253.19 273.63 252.75 273.83 252.36 274.03 252.03 274.23 251.76 274.43 251.56 274.63 251.44 274.83 251.39 274.86 251.39 275.06 251.43 275.26 251.53 275.46 251.71 275.66 251.94 275.86 252.24 276.06 252.60 276.26 253.00 276.46 253.45 276.66 253.93 276.86 254.45 277.06 254.97 277.26 255.51 277.46 256.05 277.66 256.58 277.86 257.10 278.06 257.58 278.26 258.04 278.46 258.45 278.66 258.81 278.86 259.11 279.06 259.36 279.26 259.54 279.46 259.65 279.66 259.70 279.68 259.70 279.88 259.67 280.08 259.58 280.28 259.44 280.48 259.24 280.68 258.99 280.88 258.70 281.08 258.36 281.28 257.99 281.48 257.59 281.68 257.16 281.88 256.72 282.08 256.27 282.28 255.83 282.48 255.39 282.68 254.96 282.88 254.55 283.08 254.18 283.28 253.84 283.48 253.54 283.68 253.28 283.88 253.08 284.08 252.93 284.28 252.84 284.48 252.80 284.50 252.80 284.70 252.83 284.90 252.91 285.10 253.05 285.30 253.25 285.50 253.49 285.70 253.78 285.90 254.11 286.10 254.47 286.30 254.86 286.50 255.28 286.70 255.71 286.90 256.15 287.10 256.59 287.30 257.02 287.50 257.43 287.70 257.83 287.90 258.20 288.10 258.53 288.30 258.82 288.50 259.07 288.70 259.27 288.90 259.42 289.10 259.51 289.30 259.55 289.33 259.55 289.53 259.52 289.73 259.43 289.93 259.29 290.13 259.10 290.33 258.86 290.53 258.57 290.73 258.24 290.93 257.88 291.13 257.48 291.33 257.07 291.53 256.64 291.73 256.20 291.93 255.76 292.13 255.33 292.33 254.91 292.53 254.52 292.73 254.15 292.93 253.82 293.13 253.52 293.33 253.27 293.53 253.07 293.73 252.93 293.93 252.84 294.13 252.80 294.15 252.80 294.35 252.83 294.55 252.92 294.75 253.08 294.95 253.28 295.15 253.55 295.35 253.86 295.55 254.22 295.75 254.61 295.95 255.04 296.15 255.49 296.35 255.95 296.55 256.43 296.75 256.90 296.95 257.37 297.15 257.82 297.35 258.25 297.55 258.65 297.75 259.01 297.95 259.32 298.15 259.59 298.35 259.81 298.55 259.97 298.75 260.07 298.95 260.11 298.98 260.11 299.18 260.08 299.38 259.98 299.58 259.83 299.78 259.62 299.98 259.36 300.18 259.05 300.38 258.69 300.58 258.30 300.78 257.87 300.98 257.43 301.18 256.96 301.38 256.49 301.58 256.01 301.78 255.55 301.98 255.10 302.18 254.67 302.38 254.27 302.58 253.91 302.78 253.59 302.98 253.32 303.18 253.11 303.38 252.95 303.58 252.85 303.78 252.81 303.80 252.81 304.00 252.84 304.20 252.92 304.40 253.05 304.60 253.23 304.80 253.46 305.00 253.72 305.20 254.03 305.40 254.37 305.60 254.73 305.80 255.12 306.00 255.52 306.20 255.93 306.40 256.33 306.60 256.74 306.80 257.12 307.00 257.49 307.20 257.83 307.40 258.14 307.60 258.42 307.80 258.65 308.00 258.83 308.20 258.97 308.40 259.06 308.60 259.09 308.62 259.09 308.82 259.06 309.02 258.99 309.22 258.87 309.42 258.70 309.62 258.48 309.82 258.23 310.02 257.94 310.22 257.62 310.42 257.28 310.62 256.92 310.82 256.54 311.02 256.16 311.22 255.77 311.42 255.39 311.62 255.03 311.82 254.68 312.02 254.36 312.22 254.07 312.42 253.81 312.62 253.59 312.82 253.42 313.02 253.29 313.22 253.21 313.42 253.18 313.45 253.18 313.65 253.20 313.85 253.26 314.05 253.37 314.25 253.51 314.45 253.70 314.65 253.91 314.85 254.16 315.05 254.43 315.25 254.73 315.45 255.04 315.65 255.36 315.85 255.69 316.05 256.02 316.25 256.34 316.45 256.66 316.65 256.95 316.85 257.23 317.05 257.48 317.25 257.70 317.45 257.88 317.65 258.03 317.85 258.14 318.05 258.21 318.25 258.24 318.27 258.24 318.47 258.22 318.67 258.15 318.87 258.04 319.07 257.88 319.27 257.68 319.47 257.45 319.67 257.19 319.87 256.89 320.07 256.58 320.27 256.25 320.47 255.90 320.67 255.55 320.87 255.19 321.07 254.85 321.27 254.51 321.47 254.19 321.67 253.90 321.87 253.63 322.07 253.39 322.27 253.19 322.47 253.03 322.67 252.91 322.87 252.84 323.07 252.81 323.09 252.81 323.29 252.84 323.49 252.91 323.69 253.04 323.89 253.21 324.09 253.42 324.29 253.68 324.49 253.97 324.69 254.29 324.89 254.64 325.09 255.01 325.29 255.39 325.49 255.78 325.69 256.16 325.89 256.55 326.09 256.92 326.29 257.27 326.49 257.59 326.69 257.89 326.89 258.15 327.09 258.37 327.29 258.54 327.49 258.67 327.69 258.75 327.89 258.79 327.92 258.79 328.12 258.77 328.32 258.71 328.52 258.61 328.72 258.47 328.92 258.30 329.12 258.10 329.32 257.87 329.52 257.62 329.72 257.34 329.92 257.05 330.12 256.75 330.32 256.44 330.52 256.14 330.72 255.84 330.92 255.54 331.12 255.27 331.32 255.01 331.52 254.78 331.72 254.57 331.92 254.40 332.12 254.26 332.32 254.16 332.52 254.09 332.72 254.07 332.74 254.07 332.94 254.08 333.14 254.14 333.34 254.22 333.54 254.34 333.74 254.49 333.94 254.67 334.14 254.87 334.34 255.09 334.54 255.33 334.74 255.59 334.94 255.85 335.14 256.12 335.34 256.39 335.54 256.65 335.74 256.91 335.94 257.15 336.14 257.37 336.34 257.58 336.54 257.76 336.74 257.91 336.94 258.03 337.14 258.12 337.34 258.18 337.54 258.20 337.56 258.20 337.76 258.18 337.96 258.13 338.16 258.05 338.36 257.93 338.56 257.78 338.76 257.61 338.96 257.41 339.16 257.18 339.36 256.95 339.56 256.69 339.76 256.43 339.96 256.17 340.16 255.90 340.36 255.64 340.56 255.38 340.76 255.14 340.96 254.92 341.16 254.72 341.36 254.54 341.56 254.39 341.76 254.27 341.96 254.18 342.16 254.12 342.36 254.10 342.39 254.10 342.59 254.12 342.79 254.17 342.99 254.25 343.19 254.37 343.39 254.52 343.59 254.69 343.79 254.89 343.99 255.12 344.19 255.35 344.39 255.61 344.59 255.87 344.79 256.13 344.99 256.40 345.19 256.66 345.39 256.92 345.59 257.16 345.79 257.38 345.99 257.58 346.19 257.76 346.39 257.91 346.59 258.03 346.79 258.12 346.99 258.18 347.19 258.20 347.21 258.20 347.41 258.18 347.61 258.14 347.81 258.06 348.01 257.95 348.21 257.82 348.41 257.66 348.61 257.48 348.81 257.28 349.01 257.07 349.21 256.84 349.41 256.60 349.61 256.36 349.81 256.12 350.01 255.88 350.21 255.65 350.41 255.44 350.61 255.23 350.81 255.05 351.01 254.89 351.21 254.75 351.41 254.64 351.61 254.56 351.81 254.51 352.01 254.49 352.03 254.49 352.23 254.51 352.43 254.56 352.63 254.63 352.83 254.74 353.03 254.87 353.23 255.03 353.43 255.21 353.63 255.41 353.83 255.63 354.03 255.86 354.23 256.09 354.43 256.33 354.63 256.57 354.83 256.81 355.03 257.04 355.23 257.26 355.43 257.46 355.63 257.64 355.83 257.80 356.03 257.94 356.23 258.05 356.43 258.13 356.63 258.18 356.83 258.20 356.86 258.20 357.06 258.19 357.26 258.14 357.46 258.07 357.66 257.97 357.86 257.85 358.06 257.71 358.26 257.54 358.46 257.36 358.66 257.16 358.86 256.95 359.06 256.73 359.26 256.51 359.46 256.29 359.66 256.07 359.86 255.86 360.06 255.66 360.26 255.47 360.46 255.31 360.66 255.16 360.86 255.03 361.06 254.93 361.26 254.86 361.46 254.81 361.66 254.79 361.68 254.79 361.88 254.81 362.08 254.84 362.28 254.91 362.48 254.99 362.68 255.10 362.88 255.23 363.08 255.38 363.28 255.54 363.48 255.72 363.68 255.91 363.88 256.10 364.08 256.30 364.28 256.49 364.48 256.69 364.68 256.87 364.88 257.05 365.08 257.21 365.28 257.36 365.48 257.50 365.68 257.61 365.88 257.70 366.08 257.76 366.28 257.80 366.48 257.82 366.51 257.82 366.71 257.81 366.91 257.77 367.11 257.71 367.31 257.63 367.51 257.52 367.71 257.40 367.91 257.25 368.11 257.10 368.31 256.93 368.51 256.75 368.71 256.56 368.91 256.37" stroke="#000" stroke-width="2.15"/>
<path d="M44.60 321.80L44.80 321.79 45.00 321.78 45.20 321.76 45.40 321.72 45.60 321.68 45.80 321.63 46.00 321.58 46.20 321.53 46.40 321.47 46.60 321.42 46.80 321.37 47.00 321.32 47.20 321.28 47.40 321.24 47.60 321.22 47.80 321.21 48.00 321.20 48.20 321.20 48.40 321.20 48.60 321.21 48.80 321.21 49.00 321.22 49.20 321.23 49.40 321.24 49.60 321.25 49.80 321.26 50.00 321.27 50.20 321.29 50.40 321.30 50.60 321.31 50.80 321.32 51.00 321.34 51.20 321.35 51.40 321.36 51.60 321.37 51.80 321.38 52.00 321.39 52.20 321.39 52.40 321.40 52.60 321.40 52.80 321.40 52.83 321.40 53.03 321.40 53.23 321.41 53.43 321.43 53.63 321.45 53.83 321.48 54.03 321.52 54.23 321.56 54.43 321.60 54.63 321.65 54.83 321.70 55.03 321.75 55.23 321.80 55.43 321.85 55.63 321.91 55.83 321.96 56.03 322.00 56.23 322.05 56.43 322.09 56.63 322.12 56.83 322.15 57.03 322.18 57.23 322.20 57.43 322.21 57.63 322.21 57.67 322.21 57.87 322.21 58.07 322.20 58.27 322.18 58.47 322.16 58.67 322.13 58.87 322.10 59.07 322.06 59.27 322.01 59.47 321.97 59.67 321.92 59.87 321.86 60.07 321.81 60.27 321.76 60.47 321.71 60.67 321.66 60.87 321.61 61.07 321.57 61.27 321.52 61.47 321.49 61.67 321.46 61.87 321.43 62.07 321.42 62.27 321.40 62.47 321.40 62.51 321.40 62.71 321.41 62.91 321.42 63.11 321.45 63.31 321.50 63.51 321.55 63.71 321.61 63.91 321.68 64.11 321.76 64.31 321.85 64.51 321.94 64.71 322.03 64.91 322.12 65.11 322.22 65.31 322.31 65.51 322.40 65.71 322.49 65.91 322.57 66.11 322.64 66.31 322.71 66.51 322.76 66.71 322.81 66.91 322.84 67.11 322.86 67.31 322.87 67.36 322.87 67.56 322.86 67.76 322.84 67.96 322.80 68.16 322.74 68.36 322.67 68.56 322.59 68.76 322.49 68.96 322.38 69.16 322.27 69.36 322.15 69.56 322.03 69.76 321.90 69.96 321.77 70.16 321.65 70.36 321.52 70.56 321.41 70.76 321.30 70.96 321.20 71.16 321.12 71.36 321.04 71.56 320.98 71.76 320.94 71.96 320.91 72.16 320.90 72.20 320.90 72.40 320.91 72.60 320.93 72.80 320.96 73.00 321.01 73.20 321.07 73.40 321.15 73.60 321.23 73.80 321.32 74.00 321.42 74.20 321.52 74.40 321.63 74.60 321.74 74.80 321.85 75.00 321.96 75.20 322.07 75.40 322.17 75.60 322.26 75.80 322.34 76.00 322.42 76.20 322.48 76.40 322.53 76.60 322.57 76.80 322.60 77.00 322.61 77.04 322.61 77.24 322.60 77.44 322.58 77.64 322.54 77.84 322.49 78.04 322.43 78.24 322.36 78.44 322.28 78.64 322.19 78.84 322.09 79.04 321.98 79.24 321.88 79.44 321.77 79.64 321.66 79.84 321.55 80.04 321.44 80.24 321.34 80.44 321.25 80.64 321.16 80.84 321.09 81.04 321.02 81.24 320.97 81.44 320.94 81.64 320.91 81.84 320.90 81.89 320.90 82.09 320.91 82.29 320.94 82.49 320.99 82.69 321.05 82.89 321.13 83.09 321.23 83.29 321.34 83.49 321.47 83.69 321.60 83.89 321.74 84.09 321.89 84.29 322.04 84.49 322.19 84.69 322.33 84.89 322.48 85.09 322.61 85.29 322.74 85.49 322.85 85.69 322.95 85.89 323.04 86.09 323.11 86.29 323.16 86.49 323.19 86.69 323.21 86.73 323.21 86.93 323.20 87.13 323.16 87.33 323.10 87.53 323.02 87.73 322.91 87.93 322.79 88.13 322.65 88.33 322.49 88.53 322.32 88.73 322.14 88.93 321.96 89.13 321.77 89.33 321.58 89.53 321.40 89.73 321.22 89.93 321.04 90.13 320.89 90.33 320.74 90.53 320.61 90.73 320.50 90.93 320.42 91.13 320.35 91.33 320.31 91.53 320.29 91.57 320.29 91.77 320.31 91.97 320.35 92.17 320.42 92.37 320.52 92.57 320.65 92.77 320.80 92.97 320.97 93.17 321.16 93.37 321.36 93.57 321.58 93.77 321.80 93.97 322.03 94.17 322.26 94.37 322.49 94.57 322.70 94.77 322.91 94.97 323.10 95.17 323.28 95.37 323.43 95.57 323.56 95.77 323.67 95.97 323.75 96.17 323.80 96.37 323.82 96.42 323.82 96.62 323.81 96.82 323.76 97.02 323.68 97.22 323.57 97.42 323.43 97.62 323.27 97.82 323.09 98.02 322.88 98.22 322.66 98.42 322.43 98.62 322.18 98.82 321.94 99.02 321.69 99.22 321.45 99.42 321.21 99.62 320.99 99.82 320.78 100.02 320.59 100.22 320.42 100.42 320.28 100.62 320.16 100.82 320.08 101.02 320.02 101.22 320.00 101.26 320.00 101.46 320.02 101.66 320.07 101.86 320.16 102.06 320.28 102.26 320.44 102.46 320.62 102.66 320.83 102.86 321.06 103.06 321.31 103.26 321.57 103.46 321.84 103.66 322.12 103.86 322.40 104.06 322.68 104.26 322.94 104.46 323.19 104.66 323.43 104.86 323.64 105.06 323.83 105.26 323.99 105.46 324.12 105.66 324.22 105.86 324.28 106.06 324.31 106.10 324.31 106.30 324.29 106.50 324.23 106.70 324.14 106.90 324.02 107.10 323.86 107.30 323.67 107.50 323.46 107.70 323.22 107.90 322.97 108.10 322.70 108.30 322.42 108.50 322.13 108.70 321.85 108.90 321.57 109.10 321.30 109.30 321.04 109.50 320.80 109.70 320.58 109.90 320.39 110.10 320.22 110.30 320.09 110.50 319.99 110.70 319.93 110.90 319.90 110.95 319.90 111.15 319.92 111.35 319.98 111.55 320.08 111.75 320.21 111.95 320.38 112.15 320.58 112.35 320.80 112.55 321.06 112.75 321.33 112.95 321.62 113.15 321.91 113.35 322.22 113.55 322.52 113.75 322.82 113.95 323.11 114.15 323.39 114.35 323.64 114.55 323.88 114.75 324.08 114.95 324.26 115.15 324.40 115.35 324.50 115.55 324.57 115.75 324.60 115.79 324.60 115.99 324.58 116.19 324.52 116.39 324.42 116.59 324.29 116.79 324.12 116.99 323.92 117.19 323.70 117.39 323.45 117.59 323.17 117.79 322.89 117.99 322.59 118.19 322.29 118.39 321.98 118.59 321.68 118.79 321.39 118.99 321.12 119.19 320.86 119.39 320.63 119.59 320.42 119.79 320.25 119.99 320.11 120.19 320.00 120.39 319.93 120.59 319.91 120.63 319.91 120.83 319.93 121.03 319.98 121.23 320.08 121.44 320.21 121.64 320.38 121.84 320.58 122.04 320.81 122.24 321.06 122.44 321.33 122.64 321.62 122.84 321.92 123.04 322.22 123.24 322.52 123.44 322.82 123.64 323.11 123.84 323.39 124.04 323.64 124.24 323.88 124.44 324.08 124.64 324.26 124.84 324.40 125.04 324.50 125.24 324.57 125.44 324.60 125.48 324.60 125.68 324.58 125.88 324.53 126.08 324.44 126.28 324.32 126.48 324.16 126.68 323.98 126.88 323.77 127.08 323.54 127.28 323.30 127.48 323.03 127.68 322.76 127.88 322.48 128.08 322.21 128.28 321.93 128.48 321.67 128.68 321.41 128.88 321.18 129.08 320.97 129.28 320.78 129.48 320.62 129.68 320.49 129.88 320.39 130.08 320.33 130.28 320.31 130.32 320.31 130.52 320.32 130.72 320.38 130.92 320.47 131.12 320.59 131.32 320.74 131.52 320.92 131.72 321.13 131.92 321.36 132.12 321.61 132.32 321.87 132.52 322.15 132.72 322.42 132.92 322.70 133.12 322.97 133.32 323.24 133.52 323.49 133.72 323.73 133.92 323.94 134.12 324.13 134.32 324.29 134.52 324.42 134.72 324.51 134.92 324.57 135.12 324.60 135.17 324.60 135.37 324.58 135.57 324.53 135.77 324.45 135.97 324.33 136.17 324.18 136.37 324.01 136.57 323.81 136.77 323.59 136.97 323.35 137.17 323.10 137.37 322.84 137.57 322.58 137.77 322.31 137.97 322.05 138.17 321.80 138.37 321.56 138.57 321.34 138.77 321.13 138.97 320.95 139.17 320.80 139.37 320.68 139.57 320.58 139.77 320.53 139.97 320.50 140.01 320.50 140.21 320.52 140.41 320.57 140.61 320.65 140.81 320.77 141.01 320.92 141.21 321.09 141.41 321.29 141.61 321.51 141.81 321.75 142.01 322.00 142.21 322.26 142.41 322.52 142.61 322.79 142.81 323.05 143.01 323.30 143.21 323.54 143.41 323.77 143.61 323.97 143.81 324.15 144.01 324.30 144.21 324.43 144.41 324.52 144.61 324.58 144.81 324.60 144.85 324.60 145.05 324.59 145.25 324.54 145.45 324.46 145.65 324.35 145.85 324.22 146.05 324.06 146.25 323.87 146.45 323.67 146.65 323.45 146.85 323.22 147.05 322.98 147.25 322.74 147.45 322.49 147.65 322.25 147.85 322.02 148.05 321.79 148.25 321.59 148.45 321.40 148.65 321.23 148.85 321.09 149.05 320.98 149.25 320.89 149.45 320.84 149.65 320.82 149.70 320.81 149.90 320.83 150.10 320.88 150.30 320.96 150.50 321.07 150.70 321.21 150.90 321.37 151.10 321.56 151.30 321.77 151.50 322.00 151.70 322.23 151.90 322.48 152.10 322.73 152.30 322.98 152.50 323.23 152.70 323.47 152.90 323.70 153.10 323.91 153.30 324.11 153.50 324.28 153.70 324.42 153.90 324.54 154.10 324.63 154.30 324.68 154.50 324.70 154.54 324.71 154.74 324.69 154.94 324.64 155.14 324.57 155.34 324.46 155.54 324.33 155.74 324.18 155.94 324.00 156.14 323.80 156.34 323.59 156.54 323.36 156.74 323.13 156.94 322.89 157.14 322.65 157.34 322.42 157.54 322.19 157.74 321.98 157.94 321.78 158.14 321.59 158.34 321.43 158.54 321.30 158.74 321.18 158.94 321.10 159.14 321.05 159.34 321.03 159.38 321.03 159.58 321.04 159.78 321.09 159.98 321.17 160.18 321.28 160.38 321.41 160.58 321.57 160.78 321.76 160.98 321.96 161.18 322.18 161.38 322.41 161.58 322.65 161.78 322.89 161.98 323.14 162.18 323.38 162.38 323.62 162.58 323.84 162.78 324.04 162.98 324.23 163.18 324.40 163.38 324.54 163.58 324.65 163.78 324.74 163.98 324.79 164.18 324.81 164.23 324.82 164.43 324.80 164.63 324.76 164.83 324.69 165.03 324.59 165.23 324.46 165.43 324.31 165.63 324.15 165.83 323.96 166.03 323.76 166.23 323.54 166.43 323.32 166.63 323.10 166.83 322.87 167.03 322.65 167.23 322.44 167.43 322.23 167.63 322.04 167.83 321.87 168.03 321.72 168.23 321.59 168.43 321.48 168.63 321.41 168.83 321.36 169.03 321.33 169.07 321.33 169.27 321.35 169.47 321.39 169.67 321.47 169.87 321.57 170.07 321.71 170.27 321.86 170.47 322.04 170.67 322.24 170.87 322.45 171.07 322.67 171.27 322.90 171.47 323.14 171.67 323.38 171.87 323.61 172.07 323.84 172.27 324.05 172.47 324.25 172.67 324.44 172.87 324.60 173.07 324.73 173.27 324.84 173.47 324.92 173.67 324.98 173.87 325.00 173.91 325.00 174.11 324.99 174.31 324.95 174.51 324.88 174.71 324.78 174.91 324.67 175.11 324.53 175.31 324.37 175.51 324.19 175.71 324.01 175.91 323.80 176.11 323.60 176.31 323.39 176.51 323.17 176.71 322.96 176.91 322.76 177.11 322.57 177.31 322.39 177.51 322.23 177.71 322.09 177.91 321.96 178.11 321.87 178.31 321.79 178.51 321.75 178.71 321.73 178.76 321.73 178.96 321.74 179.16 321.78 179.36 321.85 179.56 321.94 179.76 322.06 179.96 322.20 180.16 322.36 180.36 322.53 180.56 322.72 180.76 322.92 180.96 323.13 181.16 323.35 181.36 323.56 181.56 323.77 181.76 323.97 181.96 324.16 182.16 324.34 182.36 324.51 182.56 324.65 182.76 324.77 182.96 324.87 183.16 324.95 183.36 324.99 183.56 325.01 183.60 325.01 183.80 325.00 184.00 324.96 184.20 324.90 184.40 324.81 184.60 324.70 184.80 324.57 185.00 324.42 185.20 324.25 185.40 324.08 185.60 323.89 185.80 323.69 186.00 323.49 186.20 323.29 186.40 323.10 186.60 322.91 186.80 322.73 187.00 322.56 187.20 322.40 187.40 322.27 187.60 322.15 187.80 322.06 188.00 321.99 188.20 321.95 188.40 321.93 188.44 321.93 188.64 321.94 188.84 321.98 189.04 322.05 189.24 322.14 189.44 322.26 189.64 322.40 189.84 322.56 190.04 322.73 190.24 322.92 190.44 323.12 190.64 323.33 190.84 323.54 191.04 323.75 191.24 323.96 191.44 324.16 191.64 324.35 191.84 324.53 192.04 324.69 192.24 324.84 192.44 324.96 192.64 325.06 192.84 325.13 193.04 325.18 193.24 325.20 193.29 325.20 193.49 325.19 193.69 325.15 193.89 325.09 194.09 325.01 194.29 324.90 194.49 324.78 194.69 324.64 194.89 324.48 195.09 324.31 195.29 324.13 195.49 323.94 195.69 323.76 195.89 323.57 196.09 323.38 196.29 323.20 196.49 323.03 196.69 322.87 196.89 322.72 197.09 322.59 197.29 322.49 197.49 322.40 197.69 322.33 197.89 322.29 198.09 322.27 198.13 322.27 198.33 322.29 198.53 322.33 198.73 322.40 198.93 322.51 199.13 322.63 199.33 322.78 199.53 322.96 199.73 323.15 199.93 323.35 200.13 323.57 200.33 323.80 200.53 324.03 200.73 324.26 200.93 324.49 201.13 324.71 201.33 324.92 201.53 325.11 201.73 325.29 201.93 325.44 202.13 325.58 202.33 325.68 202.53 325.76 202.73 325.81 202.93 325.84 202.97 325.84 203.17 325.82 203.37 325.79 203.57 325.72 203.77 325.64 203.97 325.53 204.17 325.40 204.37 325.26 204.57 325.10 204.77 324.93 204.97 324.74 205.17 324.55 205.37 324.36 205.57 324.16 205.77 323.97 205.97 323.79 206.17 323.61 206.37 323.45 206.57 323.30 206.77 323.17 206.97 323.06 207.17 322.97 207.37 322.90 207.57 322.86 207.77 322.84 207.82 322.84 208.02 322.85 208.22 322.89 208.42 322.96 208.62 323.06 208.82 323.17 209.02 323.31 209.22 323.47 209.42 323.65 209.62 323.84 209.82 324.04 210.02 324.25 210.22 324.46 210.42 324.68 210.62 324.89 210.82 325.09 211.02 325.28 211.22 325.46 211.42 325.63 211.62 325.77 211.82 325.89 212.02 325.99 212.22 326.07 212.42 326.11 212.62 326.13 212.66 326.13 212.86 326.12 213.06 326.08 213.26 326.02 213.46 325.94 213.66 325.83 213.86 325.70 214.06 325.56 214.26 325.40 214.46 325.23 214.66 325.05 214.86 324.86 215.06 324.66 215.26 324.47 215.46 324.28 215.66 324.10 215.86 323.92 216.06 323.76 216.26 323.61 216.46 323.48 216.66 323.37 216.86 323.28 217.06 323.21 217.26 323.17 217.46 323.15 217.50 323.15 217.70 323.16 217.90 323.21 218.10 323.27 218.30 323.37 218.50 323.49 218.70 323.63 218.90 323.79 219.10 323.96 219.30 324.15 219.50 324.35 219.70 324.56 219.90 324.78 220.10 324.99 220.30 325.20 220.50 325.41 220.70 325.60 220.90 325.78 221.10 325.94 221.30 326.09 221.50 326.21 221.70 326.31 221.90 326.38 222.10 326.43 222.30 326.45 222.35 326.45 222.55 326.44 222.75 326.40 222.95 326.35 223.15 326.27 223.35 326.17 223.55 326.06 223.75 325.93 223.95 325.78 224.15 325.62 224.35 325.46 224.55 325.28 224.75 325.11 224.95 324.93 225.15 324.76 225.35 324.59 225.55 324.43 225.75 324.28 225.95 324.15 226.15 324.03 226.35 323.93 226.55 323.85 226.75 323.79 226.95 323.75 227.15 323.73 227.19 323.73 227.39 323.74 227.59 323.78 227.79 323.85 227.99 323.93 228.19 324.04 228.39 324.18 228.59 324.33 228.79 324.49 228.99 324.67 229.19 324.86 229.39 325.06 229.59 325.26 229.79 325.46 229.99 325.66 230.19 325.85 230.39 326.04 230.59 326.21 230.79 326.36 230.99 326.50 231.19 326.61 231.39 326.71 231.59 326.78 231.79 326.82 231.99 326.84 232.04 326.84 232.24 326.83 232.44 326.79 232.64 326.73 232.84 326.65 233.04 326.55 233.24 326.43 233.44 326.30 233.64 326.15 233.84 325.98 234.04 325.81 234.24 325.63 234.44 325.45 234.64 325.27 234.84 325.09 235.04 324.91 235.24 324.75 235.44 324.59 235.64 324.45 235.84 324.33 236.04 324.22 236.24 324.14 236.44 324.08 236.64 324.04 236.84 324.02 236.88 324.02 237.08 324.03 237.28 324.07 237.48 324.14 237.68 324.23 237.88 324.34 238.08 324.48 238.28 324.63 238.48 324.80 238.68 324.98 238.88 325.18 239.08 325.38 239.28 325.59 239.48 325.79 239.68 326.00 239.88 326.19 240.08 326.38 240.28 326.55 240.48 326.71 240.68 326.85 240.88 326.97 241.08 327.06 241.28 327.13 241.48 327.18 241.68 327.20 241.72 327.20 241.92 327.19 242.12 327.16 242.32 327.12 242.52 327.05 242.72 326.97 242.92 326.87 243.12 326.77 243.32 326.65 243.52 326.52 243.72 326.38 243.92 326.24 244.12 326.09 244.32 325.95 244.52 325.81 244.72 325.67 244.92 325.54 245.12 325.42 245.32 325.31 245.52 325.22 245.72 325.14 245.92 325.08 246.12 325.03 246.32 325.01 246.50 325.00 246.70 325.00 246.90 325.01 247.10 325.02 247.30 325.04 247.50 325.06 247.70 325.08 247.90 325.10 248.10 325.13 248.30 325.16 248.50 325.18 248.70 325.21 248.90 325.23 249.10 325.25 249.30 325.27 249.50 325.29 249.70 325.29 249.90 325.30 250.00 325.30 250.20 325.29 250.40 325.26 250.60 325.22 250.80 325.15 251.00 325.08 251.20 324.99 251.40 324.90 251.60 324.80 251.80 324.70 252.00 324.61 252.20 324.52 252.40 324.45 252.60 324.38 252.80 324.34 253.00 324.31 253.20 324.30 253.40 324.31 253.60 324.33 253.80 324.36 254.00 324.40 254.20 324.46 254.40 324.52 254.60 324.60 254.80 324.69 255.00 324.78 255.20 324.88 255.40 324.99 255.60 325.11 255.80 325.22 256.00 325.34 256.20 325.46 256.40 325.58 256.60 325.69 256.80 325.81 257.00 325.92 257.20 326.02 257.40 326.11 257.60 326.20 257.80 326.28 258.00 326.34 258.20 326.40 258.40 326.44 258.60 326.47 258.80 326.49 259.00 326.50 259.00 326.50 259.20 326.49 259.40 326.48 259.60 326.45 259.80 326.42 260.00 326.37 260.20 326.31 260.40 326.25 260.60 326.18 260.80 326.10 261.00 326.01 261.20 325.92 261.40 325.82 261.60 325.73 261.80 325.63 262.00 325.52 262.20 325.42 262.40 325.32 262.60 325.23 262.80 325.13 263.00 325.05 263.20 324.96 263.40 324.89 263.60 324.82 263.80 324.76 264.00 324.71 264.20 324.67 264.40 324.63 264.60 324.61 264.80 324.60 264.90 324.60 265.10 324.60 265.30 324.62 265.50 324.64 265.70 324.67 265.90 324.71 266.10 324.76 266.30 324.81 266.50 324.87 266.70 324.93 266.90 325.00 267.10 325.07 267.30 325.14 267.50 325.22 267.70 325.29 267.90 325.36 268.10 325.43 268.30 325.50 268.50 325.56 268.70 325.62 268.90 325.67 269.10 325.71 269.30 325.75 269.50 325.77 269.70 325.79 269.90 325.80 270.00 325.80 270.20 325.80 270.40 325.82 270.60 325.84 270.80 325.86 271.00 325.90 271.20 325.94 271.40 325.99 271.60 326.05 271.80 326.11 272.00 326.18 272.20 326.25 272.40 326.32 272.60 326.40 272.80 326.48 273.00 326.57 273.20 326.65 273.40 326.73 273.60 326.82 273.80 326.90 274.00 326.98 274.20 327.05 274.40 327.12 274.60 327.19 274.80 327.25 275.00 327.31 275.20 327.36 275.40 327.40 275.60 327.44 275.80 327.46 276.00 327.48 276.20 327.50 276.40 327.50 276.60 327.49 276.80 327.47 277.00 327.43 277.20 327.38 277.40 327.32 277.60 327.24 277.80 327.15 278.00 327.04 278.20 326.93 278.40 326.80 278.60 326.67 278.80 326.52 279.00 326.37 279.20 326.22 279.40 326.05 279.60 325.88 279.80 325.71 280.00 325.54 280.20 325.37 280.40 325.20 280.60 325.03 280.80 324.87 281.00 324.70 281.20 324.55 281.40 324.40 281.60 324.26 281.80 324.13 282.00 324.01 282.20 323.90 282.40 323.80 282.60 323.72 282.80 323.65 283.00 323.59 283.20 323.55 283.40 323.52 283.60 323.50 283.70 323.50 283.90 323.52 284.10 323.59 284.30 323.70 284.50 323.85 284.70 324.02 284.90 324.23 285.10 324.46 285.30 324.69 285.50 324.93 285.70 325.16 285.90 325.37 286.10 325.57 286.30 325.73 286.50 325.86 286.70 325.95 286.90 325.99 287.00 326.00 287.20 326.02 287.40 326.10 287.60 326.21 287.80 326.37 288.00 326.56 288.20 326.77 288.40 327.01 288.60 327.25 288.80 327.49 289.00 327.73 289.20 327.94 289.40 328.13 289.60 328.29 289.80 328.40 290.00 328.48 290.20 328.50 290.40 328.47 290.60 328.40 290.80 328.28 291.00 328.11 291.20 327.90 291.40 327.65 291.60 327.38 291.80 327.08 292.00 326.76 292.20 326.43 292.40 326.10 292.60 325.78 292.80 325.47 293.00 325.18 293.20 324.92 293.40 324.69 293.60 324.50 293.80 324.36 294.00 324.26 294.20 324.21 294.30 324.20 294.50 324.20 294.70 324.22 294.90 324.24 295.10 324.26 295.30 324.30 295.50 324.34 295.70 324.38 295.90 324.44 296.10 324.49 296.30 324.56 296.50 324.62 296.70 324.69 296.90 324.76 297.10 324.83 297.30 324.90 297.50 324.97 297.70 325.04 297.90 325.11 298.10 325.17 298.30 325.23 298.50 325.29 298.70 325.34 298.90 325.38 299.10 325.42 299.30 325.45 299.50 325.48 299.70 325.49 299.90 325.50 300.00 325.50 300.20 325.50 300.40 325.50 300.60 325.51 300.80 325.52 301.00 325.53 301.20 325.54 301.40 325.55 301.60 325.57 301.80 325.59 302.00 325.60 302.20 325.62 302.40 325.64 302.60 325.66 302.80 325.68 303.00 325.70 303.20 325.71 303.40 325.73 303.60 325.75 303.80 325.76 304.00 325.77 304.20 325.78 304.40 325.79 304.60 325.80 304.80 325.80 305.00 325.80 305.20 325.80 305.40 325.81 305.60 325.82 305.80 325.84 306.00 325.86 306.20 325.88 306.40 325.91 306.60 325.94 306.80 325.97 307.00 326.00 307.20 326.03 307.40 326.06 307.60 326.09 307.80 326.12 308.00 326.14 308.20 326.16 308.40 326.18 308.60 326.19 308.80 326.20 309.00 326.20 309.20 326.19 309.40 326.17 309.60 326.13 309.80 326.08 310.00 326.01 310.20 325.93 310.40 325.84 310.60 325.74 310.80 325.63 311.00 325.51 311.20 325.39 311.40 325.26 311.60 325.14 311.80 325.01 312.00 324.89 312.20 324.77 312.40 324.66 312.60 324.56 312.80 324.47 313.00 324.39 313.20 324.32 313.40 324.27 313.60 324.23 313.80 324.21 314.00 324.20 314.20 324.21 314.40 324.24 314.60 324.28 314.80 324.35 315.00 324.43 315.20 324.52 315.40 324.63 315.60 324.75 315.80 324.88 316.00 325.02 316.20 325.17 316.40 325.31 316.60 325.46 316.80 325.61 317.00 325.75 317.20 325.88 317.40 326.01 317.60 326.12 317.80 326.23 318.00 326.31 318.20 326.39 318.40 326.44 318.60 326.48 318.80 326.50 318.90 326.50 319.10 326.50 319.30 326.48 319.50 326.47 319.70 326.44 319.90 326.41 320.10 326.37 320.30 326.33 320.50 326.28 320.70 326.22 320.90 326.17 321.10 326.11 321.30 326.05 321.50 325.98 321.70 325.92 321.90 325.86 322.10 325.81 322.30 325.75 322.50 325.70 322.70 325.65 322.90 325.61 323.10 325.57 323.30 325.55 323.50 325.52 323.70 325.51 323.90 325.50 324.00 325.50 324.20 325.50 324.40 325.50 324.60 325.49 324.80 325.48 325.00 325.47 325.20 325.46 325.40 325.44 325.60 325.42 325.80 325.41 326.00 325.39 326.20 325.36 326.40 325.34 326.60 325.32 326.80 325.29 327.00 325.27 327.20 325.24 327.40 325.22 327.60 325.19 327.80 325.17 328.00 325.15 328.20 325.12 328.40 325.10 328.60 325.08 328.80 325.07 329.00 325.05 329.20 325.04 329.40 325.02 329.60 325.02 329.80 325.01 330.00 325.00 330.20 325.00 330.30 325.00 330.50 325.00 330.70 325.02 330.90 325.04 331.10 325.07 331.30 325.11 331.50 325.16 331.70 325.22 331.90 325.28 332.10 325.36 332.30 325.43 332.50 325.51 332.70 325.60 332.90 325.69 333.10 325.78 333.30 325.88 333.50 325.98 333.70 326.07 333.90 326.17 334.10 326.26 334.30 326.35 334.50 326.44 334.70 326.53 334.90 326.61 335.10 326.68 335.30 326.75 335.50 326.81 335.70 326.86 335.90 326.91 336.10 326.94 336.30 326.97 336.50 326.99 336.70 327.00 336.80 327.00 337.00 326.99 337.20 326.98 337.40 326.95 337.60 326.91 337.80 326.87 338.00 326.81 338.20 326.75 338.40 326.68 338.60 326.60 338.80 326.52 339.00 326.43 339.20 326.34 339.40 326.26 339.60 326.17 339.80 326.08 340.00 326.00 340.20 325.92 340.40 325.85 340.60 325.79 340.80 325.73 341.00 325.69 341.20 325.65 341.40 325.62 341.60 325.61 341.80 325.60 342.00 325.60 342.20 325.60 342.40 325.61 342.60 325.61 342.80 325.61 343.00 325.62 343.20 325.63 343.40 325.64 343.60 325.65 343.80 325.66 344.00 325.67 344.20 325.68 344.40 325.69 344.60 325.70 344.80 325.72 345.00 325.73 345.20 325.75 345.40 325.76 345.60 325.78 345.80 325.79 346.00 325.81 346.20 325.82 346.40 325.84 346.60 325.85 346.80 325.87 347.00 325.88 347.20 325.90 347.40 325.91 347.60 325.92 347.80 325.93 348.00 325.94 348.20 325.95 348.40 325.96 348.60 325.97 348.80 325.98 349.00 325.99 349.20 325.99 349.40 325.99 349.60 326.00 349.80 326.00 350.00 326.00 350.20 326.00 350.40 326.00 350.60 326.00 350.80 326.00 351.00 326.00 351.20 326.00 351.40 326.00 351.60 326.00 351.80 326.00 352.00 326.00 352.20 326.00 352.40 326.00 352.60 326.00 352.80 326.00 353.00 326.00 353.20 326.00 353.40 326.00 353.60 326.00 353.80 326.00 354.00 326.00 354.20 326.00 354.40 326.00 354.60 326.00 354.80 326.00 355.00 326.00 355.20 326.00 355.40 326.00 355.60 326.00 355.80 326.00 356.00 326.00 356.20 326.00 356.40 326.00 356.60 326.00 356.80 326.00 357.00 326.00 357.20 326.00 357.40 326.00 357.60 326.00 357.80 326.00 358.00 326.00 358.10 326.00 358.30 326.00 358.50 325.99 358.70 325.98 358.90 325.97 359.10 325.96 359.30 325.94 359.50 325.92 359.70 325.90 359.90 325.87 360.10 325.85 360.30 325.82 360.50 325.79 360.70 325.76 360.90 325.72 361.10 325.69 361.30 325.66 361.50 325.63 361.70 325.60 361.90 325.57 362.10 325.54 362.30 325.51 362.50 325.49 362.70 325.47 362.90 325.45 363.10 325.43 363.30 325.42 363.50 325.41 363.70 325.40 363.90 325.40 364.00 325.40 364.20 325.40 364.40 325.39 364.60 325.38 364.80 325.37 365.00 325.35 365.20 325.33 365.40 325.31 365.60 325.28 365.80 325.25 366.00 325.22 366.20 325.19 366.40 325.16 366.60 325.13 366.80 325.09 367.00 325.06 367.20 325.02 367.40 324.99 367.60 324.96 367.80 324.93 368.00 324.90 368.20 324.88 368.40 324.86 368.60 324.84 368.80 324.82 369.00 324.81" stroke="#ff0000" stroke-width="2.1"/>
<path d="M44.60 379.00L44.80 379.00 45.00 379.00 45.20 379.00 45.40 379.00 45.60 379.00 45.80 379.00 46.00 379.00 46.20 379.00 46.40 379.00 46.60 379.00 46.80 379.00 47.00 379.00 47.20 379.00 47.40 379.00 47.60 379.00 47.80 379.00 48.00 379.00 48.20 379.00 48.40 379.00 48.60 379.00 48.80 379.00 49.00 379.00 49.20 379.00 49.40 379.00 49.60 379.00 49.80 379.00 50.00 379.00 50.20 379.00 50.40 378.99 50.60 378.97 50.80 378.95 51.00 378.93 51.20 378.90 51.40 378.86 51.60 378.83 51.80 378.79 52.00 378.75 52.20 378.71 52.40 378.67 52.60 378.64 52.80 378.60 53.00 378.57 53.20 378.55 53.40 378.53 53.60 378.51 53.80 378.50 54.00 378.50 54.20 378.50 54.40 378.51 54.60 378.52 54.80 378.54 55.00 378.56 55.20 378.59 55.40 378.61 55.60 378.64 55.80 378.67 56.00 378.70 56.20 378.73 56.40 378.75 56.60 378.77 56.80 378.78 57.00 378.79 57.20 378.80 57.30 378.80 57.50 378.81 57.70 378.85 57.90 378.92 58.10 379.01 58.30 379.12 58.50 379.26 58.70 379.41 58.90 379.58 59.10 379.77 59.30 379.97 59.50 380.18 59.70 380.39 59.90 380.61 60.10 380.83 60.30 381.04 60.50 381.25 60.70 381.45 60.90 381.63 61.10 381.81 61.30 381.96 61.50 382.09 61.70 382.21 61.90 382.29 62.10 382.36 62.30 382.40 62.49 382.41 62.69 382.37 62.89 382.24 63.09 382.04 63.29 381.76 63.49 381.40 63.69 380.99 63.89 380.51 64.09 379.98 64.29 379.41 64.49 378.81 64.69 378.19 64.89 377.56 65.09 376.93 65.29 376.31 65.49 375.71 65.69 375.14 65.89 374.62 66.09 374.14 66.29 373.73 66.49 373.38 66.69 373.10 66.89 372.90 67.09 372.78 67.28 372.75 67.48 372.81 67.68 373.01 67.88 373.33 68.08 373.78 68.28 374.34 68.48 375.01 68.68 375.77 68.88 376.61 69.08 377.52 69.28 378.47 69.48 379.46 69.68 380.47 69.88 381.48 70.08 382.46 70.28 383.42 70.48 384.32 70.68 385.16 70.88 385.91 71.08 386.57 71.28 387.13 71.48 387.57 71.68 387.89 71.88 388.08 72.07 388.14 72.27 388.05 72.47 387.80 72.67 387.39 72.87 386.82 73.07 386.11 73.27 385.26 73.47 384.29 73.67 383.22 73.87 382.07 74.07 380.85 74.27 379.59 74.47 378.31 74.67 377.03 74.87 375.77 75.07 374.56 75.27 373.41 75.47 372.34 75.67 371.38 75.87 370.54 76.07 369.83 76.27 369.27 76.47 368.87 76.67 368.63 76.86 368.55 77.06 368.65 77.26 368.93 77.46 369.41 77.66 370.06 77.86 370.88 78.06 371.85 78.26 372.96 78.46 374.18 78.66 375.50 78.86 376.90 79.06 378.34 79.26 379.81 79.46 381.28 79.66 382.72 79.86 384.11 80.06 385.43 80.26 386.65 80.46 387.75 80.66 388.71 80.86 389.52 81.06 390.16 81.26 390.63 81.46 390.90 81.65 390.99 81.85 390.88 82.05 390.56 82.25 390.02 82.45 389.28 82.65 388.35 82.85 387.25 83.05 385.99 83.25 384.60 83.45 383.10 83.65 381.52 83.85 379.88 84.05 378.21 84.25 376.54 84.45 374.91 84.65 373.33 84.85 371.84 85.05 370.45 85.25 369.20 85.45 368.11 85.65 367.19 85.85 366.46 86.05 365.93 86.25 365.62 86.44 365.52 86.64 365.65 86.84 366.02 87.04 366.63 87.24 367.47 87.44 368.53 87.64 369.79 87.84 371.22 88.04 372.80 88.24 374.51 88.44 376.31 88.64 378.18 88.84 380.08 89.04 381.98 89.24 383.84 89.44 385.64 89.64 387.34 89.84 388.92 90.04 390.34 90.24 391.59 90.44 392.63 90.64 393.47 90.84 394.07 91.04 394.42 91.22 394.54 91.42 394.40 91.62 394.00 91.82 393.34 92.02 392.42 92.22 391.28 92.42 389.92 92.62 388.37 92.82 386.66 93.02 384.81 93.22 382.87 93.42 380.85 93.62 378.79 93.82 376.74 94.02 374.73 94.22 372.78 94.42 370.94 94.62 369.24 94.82 367.70 95.02 366.35 95.22 365.22 95.42 364.32 95.62 363.67 95.82 363.29 96.01 363.17 96.21 363.31 96.41 363.75 96.61 364.47 96.81 365.46 97.01 366.71 97.21 368.18 97.41 369.87 97.61 371.73 97.81 373.74 98.01 375.86 98.21 378.05 98.41 380.29 98.61 382.52 98.81 384.71 99.01 386.82 99.21 388.83 99.41 390.68 99.61 392.35 99.81 393.82 100.01 395.05 100.21 396.03 100.41 396.73 100.61 397.16 100.80 397.29 101.00 397.13 101.20 396.65 101.40 395.87 101.60 394.80 101.80 393.45 102.00 391.85 102.20 390.02 102.40 388.00 102.60 385.82 102.80 383.52 103.00 381.14 103.20 378.72 103.40 376.30 103.60 373.93 103.80 371.64 104.00 369.47 104.20 367.46 104.40 365.64 104.60 364.05 104.80 362.72 105.00 361.66 105.20 360.89 105.40 360.43 105.59 360.29 105.79 360.46 105.99 360.97 106.19 361.82 106.39 362.97 106.59 364.43 106.79 366.15 106.99 368.12 107.19 370.29 107.39 372.64 107.59 375.11 107.79 377.68 107.99 380.28 108.19 382.89 108.39 385.45 108.59 387.92 108.79 390.26 108.99 392.42 109.19 394.37 109.39 396.09 109.59 397.52 109.79 398.67 109.99 399.49 110.19 399.98 110.38 400.13 110.58 399.96 110.78 399.43 110.98 398.56 111.18 397.37 111.38 395.87 111.58 394.09 111.78 392.07 111.98 389.83 112.18 387.41 112.38 384.86 112.58 382.21 112.78 379.53 112.98 376.84 113.18 374.20 113.38 371.66 113.58 369.25 113.78 367.02 113.98 365.00 114.18 363.24 114.38 361.76 114.58 360.58 114.78 359.73 114.98 359.22 115.17 359.06 115.37 359.25 115.57 359.81 115.77 360.74 115.97 362.01 116.17 363.60 116.37 365.50 116.57 367.66 116.77 370.05 116.97 372.62 117.17 375.34 117.37 378.15 117.57 381.01 117.77 383.88 117.97 386.69 118.17 389.40 118.37 391.96 118.57 394.34 118.77 396.49 118.97 398.36 119.17 399.94 119.37 401.20 119.57 402.10 119.77 402.64 119.96 402.81 120.16 402.62 120.36 402.05 120.56 401.12 120.76 399.83 120.96 398.21 121.16 396.30 121.36 394.11 121.56 391.69 121.76 389.08 121.96 386.33 122.16 383.48 122.36 380.59 122.56 377.69 122.76 374.84 122.96 372.10 123.16 369.50 123.36 367.09 123.56 364.92 123.76 363.02 123.96 361.42 124.16 360.15 124.36 359.24 124.56 358.69 124.75 358.52 124.95 358.72 125.15 359.30 125.35 360.27 125.55 361.60 125.75 363.27 125.95 365.26 126.15 367.52 126.35 370.02 126.55 372.71 126.75 375.56 126.95 378.51 127.15 381.50 127.35 384.50 127.55 387.44 127.75 390.28 127.95 392.97 128.15 395.46 128.35 397.70 128.55 399.67 128.75 401.33 128.95 402.64 129.15 403.58 129.35 404.15 129.54 404.33 129.74 404.13 129.94 403.53 130.14 402.55 130.34 401.20 130.54 399.50 130.74 397.49 130.94 395.19 131.14 392.65 131.34 389.92 131.54 387.03 131.74 384.04 131.94 380.99 132.14 377.95 132.34 374.97 132.54 372.08 132.74 369.36 132.94 366.83 133.14 364.55 133.34 362.55 133.54 360.87 133.74 359.54 133.94 358.58 134.14 358.01 134.33 357.83 134.53 358.03 134.73 358.62 134.93 359.61 135.13 360.96 135.33 362.66 135.53 364.68 135.73 366.98 135.93 369.52 136.13 372.26 136.33 375.15 136.53 378.15 136.73 381.20 136.93 384.24 137.13 387.23 137.33 390.12 137.53 392.85 137.73 395.38 137.93 397.67 138.13 399.67 138.33 401.35 138.53 402.68 138.73 403.65 138.93 404.22 139.12 404.40 139.32 404.21 139.52 403.64 139.72 402.70 139.92 401.40 140.12 399.78 140.32 397.85 140.52 395.65 140.72 393.22 140.92 390.60 141.12 387.83 141.32 384.97 141.52 382.05 141.72 379.14 141.92 376.28 142.12 373.52 142.32 370.91 142.52 368.49 142.72 366.30 142.92 364.39 143.12 362.78 143.32 361.51 143.52 360.59 143.72 360.04 143.91 359.87 144.11 360.05 144.31 360.59 144.51 361.48 144.71 362.71 144.91 364.26 145.11 366.09 145.31 368.17 145.51 370.48 145.71 372.97 145.91 375.60 146.11 378.32 146.31 381.09 146.51 383.85 146.71 386.57 146.91 389.19 147.11 391.67 147.31 393.97 147.51 396.05 147.71 397.86 147.91 399.39 148.11 400.60 148.31 401.47 148.51 402.00 148.70 402.16 148.90 401.99 149.10 401.49 149.30 400.67 149.50 399.53 149.70 398.11 149.90 396.42 150.10 394.49 150.30 392.36 150.50 390.06 150.70 387.64 150.90 385.13 151.10 382.57 151.30 380.02 151.50 377.51 151.70 375.09 151.90 372.80 152.10 370.68 152.30 368.77 152.50 367.09 152.70 365.68 152.90 364.56 153.10 363.76 153.30 363.28 153.48 363.12 153.68 363.29 153.88 363.77 154.08 364.57 154.28 365.67 154.48 367.04 154.68 368.68 154.88 370.54 155.08 372.60 155.28 374.82 155.48 377.17 155.68 379.60 155.88 382.07 156.08 384.54 156.28 386.96 156.48 389.30 156.68 391.52 156.88 393.57 157.08 395.42 157.28 397.04 157.48 398.40 157.68 399.49 157.88 400.27 158.08 400.73 158.27 400.88 158.47 400.72 158.67 400.27 158.87 399.52 159.07 398.49 159.27 397.19 159.47 395.65 159.67 393.90 159.87 391.96 160.07 389.87 160.27 387.66 160.47 385.37 160.67 383.05 160.87 380.72 161.07 378.44 161.27 376.24 161.47 374.16 161.67 372.22 161.87 370.48 162.07 368.96 162.27 367.67 162.47 366.66 162.67 365.92 162.87 365.48 163.06 365.34 163.26 365.49 163.46 365.94 163.66 366.67 163.86 367.68 164.06 368.95 164.26 370.46 164.46 372.17 164.66 374.07 164.86 376.12 165.06 378.28 165.26 380.51 165.46 382.79 165.66 385.06 165.86 387.29 166.06 389.45 166.26 391.49 166.46 393.37 166.66 395.08 166.86 396.57 167.06 397.83 167.26 398.82 167.46 399.54 167.66 399.97 167.85 400.10 168.05 399.97 168.25 399.55 168.45 398.88 168.65 397.94 168.85 396.77 169.05 395.38 169.25 393.79 169.45 392.03 169.65 390.14 169.85 388.14 170.05 386.07 170.25 383.97 170.45 381.86 170.65 379.80 170.85 377.81 171.05 375.92 171.25 374.17 171.45 372.59 171.65 371.21 171.85 370.05 172.05 369.13 172.25 368.47 172.45 368.07 172.64 367.95 172.84 368.08 173.04 368.50 173.24 369.18 173.44 370.13 173.64 371.31 173.84 372.71 174.04 374.31 174.24 376.08 174.44 377.99 174.64 380.00 174.84 382.08 175.04 384.20 175.24 386.32 175.44 388.40 175.64 390.41 175.84 392.31 176.04 394.07 176.24 395.66 176.44 397.06 176.64 398.22 176.84 399.15 177.04 399.82 177.24 400.22 177.43 400.35 177.63 400.22 177.83 399.82 178.03 399.18 178.23 398.29 178.43 397.17 178.63 395.85 178.83 394.33 179.03 392.66 179.23 390.86 179.43 388.96 179.63 386.99 179.83 384.99 180.03 382.99 180.23 381.02 180.43 379.12 180.63 377.33 180.83 375.67 181.03 374.16 181.23 372.85 181.43 371.74 181.63 370.87 181.83 370.23 182.03 369.86 182.22 369.74 182.42 369.86 182.62 370.24 182.82 370.86 183.02 371.72 183.22 372.79 183.42 374.07 183.62 375.52 183.82 377.13 184.02 378.86 184.22 380.69 184.42 382.59 184.62 384.51 184.82 386.44 185.02 388.33 185.22 390.16 185.42 391.88 185.62 393.48 185.82 394.93 186.02 396.19 186.22 397.26 186.42 398.10 186.62 398.71 186.82 399.07 187.01 399.19 187.21 399.07 187.41 398.71 187.61 398.12 187.81 397.32 188.01 396.30 188.21 395.10 188.41 393.73 188.61 392.22 188.81 390.58 189.01 388.86 189.21 387.07 189.41 385.25 189.61 383.44 189.81 381.65 190.01 379.93 190.21 378.30 190.41 376.80 190.61 375.43 190.81 374.24 191.01 373.24 191.21 372.44 191.41 371.87 191.61 371.53 191.80 371.42 192.00 371.53 192.20 371.87 192.40 372.44 192.60 373.21 192.80 374.18 193.00 375.33 193.20 376.64 193.40 378.09 193.60 379.66 193.80 381.31 194.00 383.02 194.20 384.76 194.40 386.50 194.60 388.21 194.80 389.86 195.00 391.42 195.20 392.86 195.40 394.17 195.60 395.31 195.80 396.27 196.00 397.03 196.20 397.58 196.40 397.91 196.59 398.01 196.79 397.91 196.99 397.59 197.19 397.07 197.39 396.35 197.59 395.44 197.79 394.37 197.99 393.15 198.19 391.80 198.39 390.34 198.59 388.81 198.79 387.21 198.99 385.60 199.19 383.98 199.39 382.39 199.59 380.85 199.79 379.40 199.99 378.06 200.19 376.84 200.39 375.78 200.59 374.89 200.79 374.18 200.99 373.67 201.19 373.36 201.38 373.27 201.58 373.37 201.78 373.69 201.98 374.22 202.18 374.95 202.38 375.86 202.58 376.94 202.78 378.18 202.98 379.54 203.18 381.02 203.38 382.57 203.58 384.18 203.78 385.81 203.98 387.45 204.18 389.06 204.38 390.61 204.58 392.07 204.78 393.43 204.98 394.66 205.18 395.73 205.38 396.64 205.58 397.35 205.78 397.87 205.98 398.18 206.17 398.27 206.37 398.17 206.57 397.88 206.77 397.38 206.97 396.70 207.17 395.85 207.37 394.84 207.57 393.69 207.77 392.42 207.97 391.04 208.17 389.60 208.37 388.09 208.57 386.57 208.77 385.04 208.97 383.54 209.17 382.10 209.37 380.73 209.57 379.46 209.77 378.32 209.97 377.32 210.17 376.47 210.37 375.80 210.57 375.32 210.77 375.03 210.95 374.94 211.15 375.04 211.35 375.33 211.55 375.80 211.75 376.45 211.95 377.27 212.15 378.24 212.35 379.35 212.55 380.57 212.75 381.89 212.95 383.28 213.15 384.73 213.35 386.19 213.55 387.66 213.75 389.10 213.95 390.49 214.15 391.80 214.35 393.02 214.55 394.12 214.75 395.09 214.95 395.89 215.15 396.54 215.35 397.00 215.55 397.28 215.74 397.36 215.94 397.27 216.14 397.00 216.34 396.55 216.54 395.94 216.74 395.16 216.94 394.24 217.14 393.19 217.34 392.04 217.54 390.79 217.74 389.47 217.94 388.10 218.14 386.71 218.34 385.33 218.54 383.96 218.74 382.65 218.94 381.40 219.14 380.25 219.34 379.21 219.54 378.29 219.74 377.53 219.94 376.92 220.14 376.48 220.34 376.22 220.53 376.14 220.73 376.23 220.93 376.49 221.13 376.92 221.33 377.51 221.53 378.26 221.73 379.15 221.93 380.16 222.13 381.27 222.33 382.48 222.53 383.75 222.73 385.07 222.93 386.41 223.13 387.74 223.33 389.06 223.53 390.33 223.73 391.53 223.93 392.64 224.13 393.64 224.33 394.52 224.53 395.26 224.73 395.85 224.93 396.27 225.13 396.52 225.32 396.60 225.52 396.52 225.72 396.27 225.92 395.86 226.12 395.30 226.32 394.59 226.52 393.75 226.72 392.80 226.92 391.74 227.12 390.60 227.32 389.40 227.52 388.15 227.72 386.88 227.92 385.62 228.12 384.37 228.32 383.17 228.52 382.04 228.72 380.99 228.92 380.04 229.12 379.21 229.32 378.51 229.52 377.95 229.72 377.55 229.92 377.31 230.11 377.24 230.31 377.32 230.51 377.57 230.71 377.98 230.91 378.54 231.11 379.24 231.31 380.08 231.51 381.04 231.71 382.09 231.91 383.23 232.11 384.43 232.31 385.67 232.51 386.94 232.71 388.20 232.91 389.45 233.11 390.64 233.31 391.78 233.51 392.83 233.71 393.78 233.91 394.61 234.11 395.31 234.31 395.86 234.51 396.26 234.71 396.50 234.90 396.57 235.10 396.50 235.30 396.27 235.50 395.90 235.70 395.39 235.90 394.74 236.10 393.98 236.30 393.11 236.50 392.15 236.70 391.11 236.90 390.01 237.10 388.88 237.30 387.73 237.50 386.57 237.70 385.44 237.90 384.35 238.10 383.31 238.30 382.35 238.50 381.49 238.70 380.73 238.90 380.10 239.10 379.59 239.30 379.23 239.50 379.01 239.69 378.94 239.89 379.01 240.09 379.23 240.29 379.58 240.49 380.07 240.69 380.68 240.89 381.41 241.09 382.24 241.29 383.15 241.49 384.14 241.69 385.18 241.89 386.26 242.09 387.36 242.29 388.46 242.49 389.53 242.69 390.57 242.89 391.56 243.09 392.47 243.29 393.29 243.49 394.01 243.69 394.62 243.89 395.10 244.09 395.45 244.29 395.65 244.48 395.72 244.68 395.66 244.88 395.47 245.08 395.16 245.28 394.73 245.48 394.19 245.68 393.56 245.88 392.83 246.08 392.03 246.28 391.16 246.48 390.25 246.68 389.30 246.88 388.34 247.08 387.38 247.28 386.43 247.48 385.52 247.68 384.66 247.88 383.86 248.08 383.14 248.28 382.50 248.48 381.97 248.68 381.55 248.88 381.25 249.08 381.07 249.27 381.01 249.47 381.08 249.67 381.27 249.87 381.60 250.07 382.04 250.27 382.60 250.47 383.27 250.67 384.03 250.87 384.87 251.07 385.77 251.27 386.73 251.47 387.72 251.67 388.72 251.87 389.73 252.07 390.72 252.27 391.67 252.47 392.57 252.67 393.41 252.87 394.16 253.07 394.82 253.27 395.38 253.47 395.82 253.67 396.13 253.87 396.32 254.06 396.38 254.26 396.32 254.46 396.14 254.66 395.84 254.86 395.44 255.06 394.92 255.26 394.31 255.46 393.62 255.66 392.85 255.86 392.02 256.06 391.14 256.26 390.23 256.46 389.31 256.66 388.39 256.86 387.49 257.06 386.61 257.26 385.79 257.46 385.02 257.66 384.33 257.86 383.72 258.06 383.22 258.26 382.81 258.46 382.52 258.66 382.35 258.85 382.29 259.05 382.35 259.25 382.53 259.45 382.83 259.65 383.24 259.85 383.76 260.05 384.37 260.25 385.06 260.45 385.83 260.65 386.66 260.85 387.54 261.05 388.45 261.25 389.37 261.45 390.29 261.65 391.20 261.85 392.07 262.05 392.90 262.25 393.66 262.45 394.35 262.65 394.96 262.85 395.47 263.05 395.87 263.25 396.16 263.45 396.34 263.64 396.39 263.84 396.34 264.04 396.17 264.24 395.89 264.44 395.50 264.64 395.01 264.84 394.44 265.04 393.78 265.24 393.06 265.44 392.28 265.64 391.45 265.84 390.60 266.04 389.73 266.24 388.86 266.44 388.01 266.64 387.18 266.84 386.40 267.04 385.68 267.24 385.03 267.44 384.46 267.64 383.98 267.84 383.60 268.04 383.33 268.24 383.16 268.42 383.11 268.62 383.17 268.82 383.33 269.02 383.60 269.22 383.97 269.42 384.44 269.62 384.99 269.82 385.62 270.02 386.32 270.22 387.07 270.42 387.87 270.62 388.69 270.82 389.53 271.02 390.36 271.22 391.19 271.42 391.98 271.62 392.73 271.82 393.42 272.02 394.05 272.22 394.60 272.42 395.06 272.62 395.43 272.82 395.69 273.02 395.85 273.21 395.90 273.41 395.85 273.61 395.69 273.81 395.43 274.01 395.07 274.21 394.62 274.41 394.09 274.61 393.48 274.81 392.81 275.01 392.09 275.21 391.32 275.41 390.53 275.61 389.73 275.81 388.92 276.01 388.13 276.21 387.37 276.41 386.65 276.61 385.98 276.81 385.38 277.01 384.85 277.21 384.41 277.41 384.05 277.61 383.80 277.81 383.65 278.00 383.60 278.20 383.65 278.40 383.80 278.60 384.06 278.80 384.40 279.00 384.84 279.20 385.35 279.40 385.94 279.60 386.59 279.80 387.29 280.00 388.03 280.20 388.80 280.40 389.58 280.60 390.35 280.80 391.12 281.00 391.86 281.20 392.56 281.40 393.20 281.60 393.79 281.80 394.30 282.00 394.73 282.20 395.07 282.40 395.32 282.60 395.46 282.79 395.51 282.99 395.46 283.19 395.32 283.39 395.09 283.59 394.77 283.79 394.37 283.99 393.89 284.19 393.35 284.39 392.74 284.59 392.10 284.79 391.41 284.99 390.70 285.19 389.98 285.39 389.26 285.59 388.56 285.79 387.87 285.99 387.23 286.19 386.63 286.39 386.09 286.59 385.62 286.79 385.22 286.99 384.90 287.19 384.68 287.39 384.54 287.58 384.50 287.78 384.55 287.98 384.69 288.18 384.92 288.38 385.24 288.58 385.64 288.78 386.12 288.98 386.66 289.18 387.26 289.38 387.91 289.58 388.59 289.78 389.30 289.98 390.02 290.18 390.74 290.38 391.44 290.58 392.12 290.78 392.77 290.98 393.37 291.18 393.91 291.38 394.38 291.58 394.78 291.78 395.09 291.98 395.32 292.18 395.45 292.37 395.50 292.57 395.45 292.77 395.33 292.97 395.11 293.17 394.82 293.37 394.46 293.57 394.02 293.77 393.53 293.97 392.98 294.17 392.39 294.37 391.77 294.57 391.13 294.77 390.47 294.97 389.82 295.17 389.18 295.37 388.56 295.57 387.97 295.77 387.42 295.97 386.93 296.17 386.50 296.37 386.14 296.57 385.85 296.77 385.65 296.97 385.52 297.16 385.49 297.36 385.53 297.56 385.65 297.76 385.85 297.96 386.13 298.16 386.48 298.36 386.90 298.56 387.37 298.76 387.90 298.96 388.46 299.16 389.06 299.36 389.68 299.56 390.31 299.76 390.94 299.96 391.56 300.16 392.15 300.36 392.72 300.56 393.24 300.76 393.71 300.96 394.12 301.16 394.47 301.36 394.75 301.56 394.94 301.76 395.06 301.95 395.10 302.15 395.06 302.35 394.96 302.55 394.78 302.75 394.54 302.95 394.23 303.15 393.87 303.35 393.46 303.55 393.00 303.75 392.51 303.95 391.99 304.15 391.46 304.35 390.91 304.55 390.37 304.75 389.83 304.95 389.31 305.15 388.82 305.35 388.37 305.55 387.96 305.75 387.60 305.95 387.30 306.15 387.06 306.35 386.89 306.55 386.78 306.74 386.75 306.94 386.79 307.14 386.89 307.34 387.07 307.54 387.31 307.74 387.62 307.94 387.98 308.14 388.39 308.34 388.85 308.54 389.34 308.74 389.86 308.94 390.39 309.14 390.94 309.34 391.48 309.54 392.02 309.74 392.54 309.94 393.03 310.14 393.48 310.34 393.89 310.54 394.25 310.74 394.55 310.94 394.79 311.14 394.96 311.34 395.06 311.53 395.09 311.73 395.06 311.93 394.96 312.13 394.80 312.33 394.57 312.53 394.28 312.73 393.95 312.93 393.56 313.13 393.14 313.33 392.68 313.53 392.19 313.73 391.69 313.93 391.18 314.13 390.67 314.33 390.17 314.53 389.69 314.73 389.23 314.93 388.81 315.13 388.42 315.33 388.09 315.53 387.81 315.73 387.58 315.93 387.42 316.13 387.33 316.32 387.30 316.52 387.33 316.72 387.42 316.92 387.57 317.12 387.79 317.32 388.05 317.52 388.37 317.72 388.73 317.92 389.13 318.12 389.56 318.32 390.01 318.52 390.48 318.72 390.96 318.92 391.44 319.12 391.91 319.32 392.36 319.52 392.79 319.72 393.19 319.92 393.55 320.12 393.86 320.32 394.13 320.52 394.33 320.72 394.49 320.92 394.58 321.11 394.60 321.31 394.57 321.51 394.48 321.71 394.33 321.91 394.11 322.11 393.85 322.31 393.53 322.51 393.17 322.71 392.77 322.91 392.34 323.11 391.89 323.31 391.42 323.51 390.94 323.71 390.46 323.91 389.99 324.11 389.54 324.31 389.11 324.51 388.71 324.71 388.36 324.91 388.04 325.11 387.78 325.31 387.57 325.51 387.42 325.71 387.33 325.90 387.30 326.10 387.33 326.30 387.43 326.50 387.59 326.70 387.82 326.90 388.10 327.10 388.43 327.30 388.81 327.50 389.23 327.70 389.68 327.90 390.16 328.10 390.66 328.30 391.16 328.50 391.67 328.70 392.16 328.90 392.64 329.10 393.09 329.30 393.51 329.50 393.88 329.70 394.21 329.90 394.49 330.10 394.71 330.30 394.87 330.50 394.97 330.68 395.00 330.88 394.97 331.08 394.88 331.28 394.73 331.48 394.53 331.68 394.28 331.88 393.98 332.08 393.64 332.28 393.26 332.48 392.85 332.68 392.42 332.88 391.98 333.08 391.52 333.28 391.07 333.48 390.63 333.68 390.20 333.88 389.79 334.08 389.41 334.28 389.07 334.48 388.78 334.68 388.53 334.88 388.33 335.08 388.19 335.28 388.10 335.47 388.07 335.67 388.10 335.87 388.19 336.07 388.33 336.27 388.53 336.47 388.78 336.67 389.08 336.87 389.41 337.07 389.79 337.27 390.19 337.47 390.61 337.67 391.05 337.87 391.50 338.07 391.95 338.27 392.39 338.47 392.81 338.67 393.21 338.87 393.58 339.07 393.92 339.27 394.21 339.47 394.45 339.67 394.65 339.87 394.79 340.07 394.88 340.26 394.90 340.46 394.88 340.66 394.81 340.86 394.69 341.06 394.52 341.26 394.32 341.46 394.08 341.66 393.80 341.86 393.49 342.06 393.16 342.26 392.82 342.46 392.46 342.66 392.09 342.86 391.72 343.06 391.36 343.26 391.01 343.46 390.68 343.66 390.38 343.86 390.10 344.06 389.86 344.26 389.66 344.46 389.50 344.66 389.38 344.86 389.32 345.05 389.29 345.25 389.32 345.45 389.39 345.65 389.51 345.85 389.67 346.05 389.88 346.25 390.12 346.45 390.40 346.65 390.70 346.85 391.03 347.05 391.38 347.25 391.74 347.45 392.11 347.65 392.48 347.85 392.84 348.05 393.18 348.25 393.51 348.45 393.82 348.65 394.09 348.85 394.34 349.05 394.54 349.25 394.70 349.45 394.81 349.65 394.88 349.84 394.91 350.04 394.88 350.24 394.79 350.44 394.65 350.64 394.46 350.84 394.22 351.04 393.94 351.24 393.61 351.44 393.25 351.64 392.86 351.84 392.45 352.04 392.03 352.24 391.60 352.44 391.17 352.64 390.75 352.84 390.34 353.04 389.95 353.24 389.59 353.44 389.27 353.64 388.99 353.84 388.75 354.04 388.56 354.24 388.42 354.44 388.34 354.63 388.32 354.83 388.35 355.03 388.44 355.23 388.58 355.43 388.79 355.63 389.04 355.83 389.34 356.03 389.68 356.23 390.06 356.43 390.47 356.63 390.91 356.83 391.36 357.03 391.81 357.23 392.27 357.43 392.71 357.63 393.15 357.83 393.55 358.03 393.93 358.23 394.27 358.43 394.57 358.63 394.82 358.83 395.02 359.03 395.17 359.23 395.25 359.42 395.28 359.62 395.25 359.82 395.17 360.02 395.04 360.22 394.86 360.42 394.63 360.62 394.36 360.82 394.05 361.02 393.70 361.22 393.33 361.42 392.94 361.62 392.54 361.82 392.13 362.02 391.72 362.22 391.32 362.42 390.93 362.62 390.56 362.82 390.22 363.02 389.91 363.22 389.64 363.42 389.41 363.62 389.23 363.82 389.10 364.02 389.02 364.21 389.00 364.41 389.02 364.61 389.10 364.81 389.21 365.01 389.38 365.21 389.58 365.41 389.82 365.61 390.10 365.81 390.41 366.01 390.74 366.21 391.08 366.41 391.44 366.61 391.81 366.81 392.18 367.01 392.54 367.21 392.88 367.41 393.21 367.61 393.52 367.81 393.79 368.01 394.03 368.21 394.23 368.41 394.39 368.61 394.51 368.81 394.58 369.00 394.60" stroke="#7f0000" stroke-width="2.15"/>
</g>
<g stroke="#505050" fill="none" stroke-width="2">
<rect x="45" y="20.1" width="324.8" height="406.8"/>
<path stroke-width="1.6" d="M45 373.4 h3.5 M45 319.9 h6 M45 266.4 h3.5 M45 212.9 h6 M45 159.4 h3.5 M45 105.9 h6 M45 52.4 h3.5 M59.6 426.9 v-5 M108.07 426.9 v-3 M156.54 426.9 v-5 M205.01 426.9 v-3 M253.48 426.9 v-5 M301.95 426.9 v-3 M350.42 426.9 v-5"/>
</g>
<g font-family="Liberation Serif" fill="#000">
<text x="51.4" y="47.2" font-size="26" font-weight="bold">(<tspan dx="0.3">a</tspan><tspan dx="0.6">)</tspan></text>
<text x="207.3" y="52.4" font-size="20" font-style="italic">P</text>
<text x="219.6" y="58.4" font-size="12.5">OP</text>
<text x="239.8" y="52.4" font-size="20">(W/cm<tspan font-size="13" dy="-8">2</tspan><tspan dy="8">):</tspan></text>
<text x="291.5" y="77.6" font-size="20">3, <tspan font-size="19.5">o</tspan><tspan font-size="13" dy="-9" dx="1.2">−</tspan></text><rect x="316.1" y="68.85" width="6.4" height="1.3" fill="#000"/>
<text x="291.6" y="163" font-size="20">1, <tspan font-size="19.5">o</tspan><tspan font-size="13" dy="-9" dx="1.2">−</tspan></text><rect x="316.2" y="154.25" width="6.4" height="1.3" fill="#000"/>
<text x="291.5" y="246.8" font-size="20">0</text>
<text x="291.6" y="316.5" font-size="20">1, <tspan font-size="19.5">o</tspan><tspan font-size="13" dy="-9" dx="1.2">+</tspan></text><rect x="316.2" y="307.75" width="6.4" height="1.3" fill="#000"/>
<text x="291.5" y="379.8" font-size="20">3, <tspan font-size="19.5">o</tspan><tspan font-size="13" dy="-9" dx="1.2">+</tspan></text><rect x="316.1" y="371.05" width="6.4" height="1.3" fill="#000"/>
<text x="59.6" y="449" font-size="20" text-anchor="middle">0</text>
<text x="156.54" y="449" font-size="20" text-anchor="middle">200</text>
<text x="253.48" y="449" font-size="20" text-anchor="middle">400</text>
<text x="350.42" y="449" font-size="20" text-anchor="middle">600</text>
<text x="158.8" y="476.5" font-size="23">Time (ns)</text>
<text transform="translate(19.8 285.2) rotate(-90)" font-size="22.7">Spin polarization</text>
</g>
<g stroke="#383838" fill="none" stroke-width="1.6">
<path d="M422.3 146.7 V210 H667"/>
<path d="M431.8 210 v-5.5 M450.6 210 v-2.7 M469.4 210 v-5.5 M488.2 210 v-2.7 M507 210 v-5.5 M525.8 210 v-2.7 M544.6 210 v-5.5 M563.4 210 v-2.7 M582.2 210 v-5.5 M601 210 v-2.7 M619.8 210 v-5.5 M638.6 210 v-2.7 M657.4 210 v-5.5"/>
<path d="M422.3 167.8 H619.5 M650 167.8 H666.6" />
</g>
<path d="M619.50 167.80L619.58 166.47 619.65 165.16 619.73 163.89 619.81 162.68 619.88 161.56 619.96 160.53 620.04 159.62 620.11 158.84 620.19 158.20 620.27 157.71 620.34 157.38 620.42 157.22 620.50 157.22 620.57 157.40 620.65 157.73 620.73 158.23 620.80 158.88 620.88 159.67 620.96 160.59 621.03 161.62 621.11 162.75 621.19 163.97 621.26 165.24 621.34 166.55 621.42 167.88 621.49 169.21 621.57 170.52 621.65 171.79 621.72 172.99 621.80 174.11 621.88 175.13 621.95 176.04 622.03 176.81 622.11 177.44 622.18 177.92 622.26 178.23 622.34 178.39 622.41 178.37 622.49 178.19 622.57 177.84 622.64 177.33 622.72 176.67 622.80 175.88 622.87 174.95 622.95 173.91 623.03 172.77 623.10 171.56 623.18 170.28 623.26 168.97 623.33 167.63 623.41 166.30 623.49 165.00 623.56 163.73 623.64 162.54 623.72 161.42 623.79 160.41 623.87 159.51 623.95 158.75 624.02 158.13 624.10 157.66 624.18 157.35 624.25 157.21 624.33 157.24 624.41 157.43 624.48 157.79 624.56 158.30 624.64 158.97 624.72 159.78 624.79 160.71 624.87 161.76 624.95 162.90 625.02 164.12 625.10 165.40 625.18 166.72 625.25 168.05 625.33 169.38 625.41 170.68 625.48 171.94 625.56 173.14 625.64 174.24 625.71 175.25 625.79 176.14 625.87 176.90 625.94 177.51 626.02 177.97 626.10 178.26 626.17 178.39 626.25 178.36 626.33 178.15 626.40 177.78 626.48 177.26 626.56 176.58 626.63 175.77 626.71 174.82 626.79 173.77 626.86 172.62 626.94 171.40 627.02 170.12 627.09 168.80 627.17 167.47 627.25 166.14 627.32 164.84 627.40 163.58 627.48 162.39 627.55 161.29 627.63 160.29 627.71 159.41 627.78 158.66 627.86 158.06 627.94 157.61 628.01 157.32 628.09 157.20 628.17 157.25 628.24 157.47 628.32 157.84 628.40 158.38 628.47 159.07 628.55 159.89 628.63 160.84 628.70 161.90 628.78 163.05 628.86 164.28 628.93 165.56 629.01 166.88 629.09 168.22 629.16 169.54 629.24 170.84 629.32 172.10 629.39 173.28 629.47 174.38 629.55 175.37 629.62 176.24 629.70 176.98 629.78 177.57 629.85 178.01 629.93 178.29 630.01 178.40 630.08 178.34 630.16 178.12 630.24 177.73 630.31 177.18 630.39 176.49 630.47 175.65 630.54 174.70 630.62 173.63 630.70 172.47 630.77 171.24 630.85 169.95 630.93 168.63 631.00 167.30 631.08 165.97 631.16 164.68 631.23 163.43 631.31 162.25 631.39 161.16 631.46 160.17 631.54 159.31 631.62 158.58 631.69 157.99 631.77 157.57 631.85 157.30 631.92 157.20 632.00 157.27 632.08 157.50 632.15 157.90 632.23 158.46 632.31 159.16 632.38 160.00 632.46 160.97 632.54 162.04 632.61 163.20 632.69 164.44 632.77 165.73 632.84 167.05 632.92 168.38 633.00 169.71 633.07 171.00 633.15 172.25 633.23 173.42 633.30 174.51 633.38 175.48 633.46 176.34 633.53 177.06 633.61 177.64 633.69 178.05 633.76 178.31 633.84 178.40 633.92 178.32 633.99 178.08 634.07 177.67 634.15 177.10 634.22 176.39 634.30 175.54 634.38 174.57 634.45 173.49 634.53 172.32 634.61 171.08 634.68 169.79 634.76 168.47 634.84 167.13 634.92 165.81 634.99 164.52 635.07 163.28 635.15 162.11 635.22 161.03 635.30 160.06 635.38 159.21 635.45 158.50 635.53 157.93 635.61 157.52 635.68 157.28 635.76 157.20 635.84 157.29 635.91 157.55 635.99 157.96 636.07 158.54 636.14 159.26 636.22 160.12 636.30 161.09 636.37 162.18 636.45 163.35 636.53 164.60 636.60 165.89 636.68 167.22 636.76 168.55 636.83 169.87 636.91 171.16 636.99 172.40 637.06 173.56 637.14 174.63 637.22 175.60 637.29 176.44 637.37 177.14 637.45 177.70 637.52 178.10 637.60 178.33 637.68 178.40 637.75 178.30 637.83 178.03 637.91 177.61 637.98 177.02 638.06 176.29 638.14 175.43 638.21 174.44 638.29 173.35 638.37 172.17 638.44 170.92 638.52 169.63 638.60 168.30 638.67 166.97 638.75 165.65 638.83 164.36 638.90 163.13 638.98 161.97 639.06 160.90 639.13 159.95 639.21 159.11 639.29 158.42 639.36 157.87 639.44 157.48 639.52 157.26 639.59 157.20 639.67 157.31 639.75 157.59 639.82 158.03 639.90 158.62 639.98 159.36 640.05 160.23 640.13 161.22 640.21 162.32 640.28 163.50 640.36 164.76 640.44 166.06 640.51 167.38 640.59 168.72 640.67 170.04 640.74 171.32 640.82 172.55 640.90 173.70 640.97 174.76 641.05 175.71 641.13 176.53 641.20 177.22 641.28 177.76 641.36 178.13 641.43 178.35 641.51 178.40 641.59 178.28 641.66 177.99 641.74 177.54 641.82 176.94 641.89 176.19 641.97 175.31 642.05 174.31 642.12 173.21 642.20 172.02 642.28 170.76 642.35 169.46 642.43 168.13 642.51 166.80 642.58 165.48 642.66 164.20 642.74 162.98 642.81 161.83 642.89 160.78 642.97 159.83 643.04 159.02 643.12 158.34 643.20 157.82 643.27 157.45 643.35 157.24 643.43 157.21 643.50 157.34 643.58 157.63 643.66 158.09 643.73 158.70 643.81 159.46 643.89 160.35 643.96 161.36 644.04 162.46 644.12 163.66 644.19 164.92 644.27 166.22 644.35 167.55 644.42 168.88 644.50 170.20 644.58 171.48 644.65 172.70 644.73 173.84 644.81 174.89 644.88 175.82 644.96 176.63 645.04 177.30 645.12 177.81 645.19 178.17 645.27 178.36 645.35 178.39 645.42 178.25 645.50 177.94 645.58 177.47 645.65 176.85 645.73 176.09 645.81 175.19 645.88 174.18 645.96 173.06 646.04 171.87 646.11 170.60 646.19 169.30 646.27 167.97 646.34 166.63 646.42 165.32 646.50 164.04 646.57 162.83 646.65 161.69 646.73 160.65 646.80 159.72 646.88 158.93 646.96 158.27 647.03 157.76 647.11 157.41 647.19 157.23 647.26 157.21 647.34 157.37 647.42 157.68 647.49 158.16 647.57 158.79 647.65 159.56 647.72 160.47 647.80 161.49 647.88 162.61 647.95 163.81 648.03 165.08 648.11 166.39 648.18 167.72 648.26 169.05 648.34 170.36 648.41 171.63 648.49 172.85 648.57 173.98 648.64 175.01 648.72 175.93 648.80 176.72 648.87 177.37 648.95 177.87 649.03 178.20 649.10 178.38 649.18 178.38 649.26 178.22 649.33 177.89 649.41 177.40 649.49 176.76 649.56 175.98 649.64 175.07 649.72 174.04 649.79 172.92 649.87 171.71 649.95 170.44 650.02 169.13 650.10 167.80" stroke="#000" stroke-width="1.1" fill="none"/>
<path d="M422.3 198.6 H431.8 L469 188.4 H620 L657.5 198.6 H666.6 V201 H422.3 Z" fill="#ff0000"/>
<g font-family="Liberation Serif">
<text x="428" y="157.7" font-size="26" font-weight="bold">(<tspan dx="0.3">c</tspan><tspan dx="-0.8">)</tspan></text>
<text id="pumpc" x="476.6" y="184.6" font-size="20" fill="#ff0000">Pumping <tspan id="o1" font-size="19.5">o</tspan><tspan font-size="13" dy="-9" dx="0.4">+</tspan><tspan dy="9">(</tspan><tspan id="o2" font-size="19.5">o</tspan><tspan font-size="13" dy="-9" dx="0.4">−</tspan><tspan dy="9">)</tspan></text>
<rect x="558.45" y="175.85" width="6.4" height="1.3" fill="#ff0000"/>
<rect x="582.62" y="175.85" width="6.4" height="1.3" fill="#ff0000"/>
<text x="608" y="158.9" font-size="20">rf</text>
<text x="431.8" y="227.4" font-size="17" text-anchor="middle">-1000</text>
<text x="469.4" y="227.4" font-size="17" text-anchor="middle">-800</text>
<text x="507" y="227.4" font-size="17" text-anchor="middle">-600</text>
<text x="544.6" y="227.4" font-size="17" text-anchor="middle">-400</text>
<text x="582.2" y="227.4" font-size="17" text-anchor="middle">-200</text>
<text x="619.8" y="227.4" font-size="17" text-anchor="middle">0</text>
<text x="657.4" y="227.4" font-size="17" text-anchor="middle">200</text>
<text x="510" y="243.2" font-size="20">Time (ns)</text>
</g>
<g stroke="#505050" fill="none" stroke-width="1.6">
<rect x="453.3" y="262.2" width="228.6" height="184.6"/>
<path d="M453.3 442.7 h5 M453.3 427.65 h2.5 M453.3 412.6 h5 M453.3 397.55 h2.5 M453.3 382.5 h5 M453.3 367.45 h2.5 M453.3 352.4 h5 M453.3 337.35 h2.5 M453.3 322.3 h5 M453.3 307.25 h2.5 M453.3 292.2 h5 M453.3 277.15 h2.5 M453.3 262.1 h5 M452.9 446.8 v-5 M485.65 446.8 v-3 M518.4 446.8 v-5 M551.15 446.8 v-3 M583.9 446.8 v-5 M616.65 446.8 v-3 M649.4 446.8 v-5"/>
</g>
<defs><clipPath id="cd"><rect x="453.6" y="262.2" width="228" height="184.6"/></clipPath></defs><g clip-path="url(#cd)">
<line x1="452.54" y1="382.7" x2="681" y2="382.7" stroke="#5c5c5c" stroke-width="1.4" stroke-dasharray="4 3.26"/>
<line x1="452.9" y1="352.4" x2="662.5" y2="272.33" stroke="#0000ff" stroke-width="1.4"/>
<line x1="452.9" y1="352.4" x2="662.5" y2="352.4" stroke="#000" stroke-width="1.4"/>
<line x1="452.9" y1="352.4" x2="662.5" y2="433.37" stroke="#ff0000" stroke-width="1.4"/>
<rect x="448.65" y="348.15" width="8.5" height="8.5" fill="#000"/>
<rect x="469.61" y="346.95" width="8.5" height="8.5" fill="#000"/>
<rect x="487.95" y="348.15" width="8.5" height="8.5" fill="#000"/>
<rect x="514.15" y="345.44" width="8.5" height="8.5" fill="#000"/>
<rect x="546.9" y="347.25" width="8.5" height="8.5" fill="#000"/>
<rect x="599.3" y="345.14" width="8.5" height="8.5" fill="#000"/>
<rect x="658.25" y="342.13" width="8.5" height="8.5" fill="#000"/>
<circle cx="452.9" cy="352.4" r="4.7" fill="#ff0000"/>
<circle cx="473.86" cy="358.12" r="4.7" fill="#ff0000"/>
<circle cx="492.2" cy="365.34" r="4.7" fill="#ff0000"/>
<circle cx="518.4" cy="378.29" r="4.7" fill="#ff0000"/>
<circle cx="551.15" cy="390.33" r="4.7" fill="#ff0000"/>
<circle cx="603.55" cy="410.79" r="4.7" fill="#ff0000"/>
<circle cx="662.5" cy="433.37" r="4.7" fill="#ff0000"/>
<path d="M452.9 347 L458.5 356.7 L447.3 356.7 Z" fill="#0000ff"/>
<path d="M473.86 337.97 L479.46 347.67 L468.26 347.67 Z" fill="#0000ff"/>
<path d="M492.2 331.95 L497.8 341.65 L486.6 341.65 Z" fill="#0000ff"/>
<path d="M518.4 321.42 L524 331.12 L512.8 331.12 Z" fill="#0000ff"/>
<path d="M551.15 310.28 L556.75 319.98 L545.55 319.98 Z" fill="#0000ff"/>
<path d="M603.55 294.02 L609.15 303.72 L597.95 303.72 Z" fill="#0000ff"/>
<path d="M662.5 275.66 L668.1 285.36 L656.9 285.36 Z" fill="#0000ff"/>
</g>
<g font-family="Liberation Serif">
<text x="460.8" y="287.1" font-size="26" font-weight="bold">(<tspan dx="0.3">d</tspan><tspan dx="0.6">)</tspan></text>
<text x="446.5" y="268.9" font-size="20" text-anchor="end">4</text>
<text x="446.5" y="299" font-size="20" text-anchor="end">3</text>
<text x="446.5" y="329.1" font-size="20" text-anchor="end">2</text>
<text x="446.5" y="359.2" font-size="20" text-anchor="end">1</text>
<text x="446.5" y="389.3" font-size="20" text-anchor="end">0</text>
<text x="446.5" y="419.4" font-size="20" text-anchor="end">-1</text>
<text x="446.5" y="449.5" font-size="20" text-anchor="end">-2</text>
<text x="452.9" y="470" font-size="20" text-anchor="middle">0</text>
<text x="518.4" y="470" font-size="20" text-anchor="middle">1</text>
<text x="583.9" y="470" font-size="20" text-anchor="middle">2</text>
<text x="649.4" y="470" font-size="20" text-anchor="middle">3</text>
<text x="453.5" y="495.1" font-size="22.8">Pumping power (W/cm<tspan font-size="14" dy="-9">2</tspan><tspan dy="9">)</tspan></text>
<text transform="translate(416.5 486) rotate(-90)" font-size="22.6"><tspan font-style="italic">S</tspan><tspan font-size="14" dy="4">z</tspan><tspan dy="-4"> amplitude (arb. units)</tspan></text>
<text x="598.7" y="288.7" font-size="28" fill="#0000ff">o</text>
<path d="M606 275.9 h9.2 v1.7 h-9.2 Z M615.9 269.8 h9.1 v1.2 h-9.1 Z" fill="#0000ff"/>
<text x="584" y="341.7" font-size="22.4">Linear</text>
<text x="610.2" y="410.4" font-size="28" fill="#ff0000">o</text>
<path d="M617.6 397.3 h9.6 v1.7 h-9.6 Z M628 391 h10.1 v1.2 h-10.1 Z M632.5 387.1 h1.2 v9 h-1.2 Z" fill="#ff0000"/>
</g>
<text x="428" y="35.8" font-size="26" font-weight="bold" font-family="Liberation Serif">(<tspan dx="0.3">b</tspan><tspan dx="-1.0">)</tspan></text>
<g stroke="#ff0000" fill="none">
<path d="M480.6 67.9 H528" stroke-width="2"/>
<path d="M468.9 129.6 L528 71.8" stroke-width="2"/>
<path d="M499.7 51.3 V85.3" stroke-width="1.2" stroke-dasharray="2.8 1.9"/>
<path d="M493.1 80.8 L506.2 54.8 M501.6 56.2 L506.6 54 L507.7 59.2 M491.4 75.5 L492.7 81.2 L497.6 78.3" stroke-width="1.6"/>
<path d="M477.38 134.76 A9.7 9.7 0 1 1 482.69 121.6" stroke-width="1.3"/>
</g>
<path d="M484.2 125.4 L480.9 121.6 L485.9 120.9 Z" fill="#ff0000"/>
<path d="M486.8 112 V101.4 L509.3 79.4 L511.3 78 V88.6 Z" fill="#ff0000"/>
<path d="M527.5 47.8 L546.5 33.5 L548.1 34 V91 L531 95.4 H527.5 Z" fill="#4a7bbb"/>
<path d="M527.5 47.8 L530.8 45.6 V95.4 H527.5 Z" fill="#86a9da"/>
<path d="M527.8 47.6 L546.6 33.7" stroke="#a9c6ec" stroke-width="1.6"/>
<ellipse cx="533.4" cy="68.4" rx="6.9" ry="19.2" fill="#d46262" fill-opacity="0.9"/>
<ellipse cx="534.4" cy="69" rx="2.3" ry="8.8" fill="#4a7bbb"/>
<ellipse cx="533.4" cy="66.4" rx="6.2" ry="16.2" fill="none" stroke="#a83232" stroke-width="0.65"/>
<ellipse cx="533.5" cy="67.5" rx="6.2" ry="16.3" fill="none" stroke="#a83232" stroke-width="0.65"/>
<ellipse cx="533.6" cy="68.6" rx="6.2" ry="16.4" fill="none" stroke="#a83232" stroke-width="0.65"/>
<ellipse cx="533.7" cy="69.7" rx="6.2" ry="16.5" fill="none" stroke="#a83232" stroke-width="0.65"/>
<ellipse cx="533.8" cy="70.8" rx="6.2" ry="16.6" fill="none" stroke="#a83232" stroke-width="0.65"/>
<ellipse cx="534.2" cy="67.6" rx="3.6" ry="11.2" fill="none" stroke="#b84040" stroke-width="0.55"/>
<ellipse cx="534.2" cy="69" rx="3.6" ry="11.2" fill="none" stroke="#b84040" stroke-width="0.55"/>
<ellipse cx="534.2" cy="70.4" rx="3.6" ry="11.2" fill="none" stroke="#b84040" stroke-width="0.55"/>
<g stroke="#ff0000" fill="none">
<path d="M535.2 67.9 H651.5" stroke-width="2"/>
<path d="M637.8 64.2 Q634 67 632.4 67.9 Q634 68.8 637.8 71.4" stroke-width="1.4"/>
<path d="M617 52 V84 M613 55.8 L617 51.2 L621 55.8 M613 80.2 L617 84.6 L621 80.2" stroke-width="1.7"/>
</g>
<path d="M589.4 67.9 Q590.8 62 591.2 56.3 Q591.7 62 593.2 67.9 Z" fill="#ff0000"/>
<text x="569.4" y="51.3" font-size="15.2" fill="#ff0000" font-family="Liberation Sans">Probe</text>
<text x="496.3" y="114.1" font-size="16" fill="#ff0000" font-family="Liberation Sans">Optical</text>
<text x="548.3" y="114.1" font-size="16" letter-spacing="0.35" fill="#ff0000" font-family="Liberation Sans">pumping</text>
<text x="479.3" y="135.3" font-size="14.5" font-weight="bold" fill="#ff0000" font-family="Liberation Sans">σ</text>
<text x="489.2" y="131" font-size="12" fill="#ff0000" font-family="Liberation Sans">+</text>
<path d="M517 50.4 L541 27.6" stroke="#4f6228" stroke-width="7.4" stroke-linecap="round"/>
<path d="M517 50.4 L541 27.6" stroke="#7f9f3c" stroke-width="6" stroke-linecap="round"/>
<path d="M516.3 48.9 L540.3 26.2" stroke="#a8c46a" stroke-width="1.5" stroke-linecap="round"/>
<path d="M537.8 24.6 L545.6 19.9 L547.6 21.4 L549.3 27.3 L541.6 30.6 Z" fill="#6f8f34" stroke="#3d4f1c" stroke-width="0.9" stroke-linejoin="round"/>
<path d="M539.5 25 L545.8 21.3" stroke="#9cbc5c" stroke-width="1.2"/>
<text transform="translate(522.4 24.8) scale(0.84 1)" font-size="25" font-weight="bold" fill="#8a8a8a" fill-opacity="0.6" font-family="Liberation Sans">B</text>
<text transform="translate(521.4 23.7) scale(0.84 1)" font-size="25" font-weight="bold" fill="#77933c" font-family="Liberation Sans">B</text>
<path d="M529.7 50.5 C529.5 44 534 40 539.5 36.5 C541.5 35 541.8 31 541 26 C540 20 538 15 538.5 11 C539 6 541 4.7 545 4.3 C555 3.6 566 3.5 576.7 3.6" fill="none" stroke="#c0504d" stroke-width="1.2"/>
<path d="M536.5 49 C539 45 546 43 548.5 38.5 C551 34 551.2 28 551 22 C550.8 16 552.5 12 557.7 10.7 C563 9.4 572 9 579.7 8.9" fill="none" stroke="#c0504d" stroke-width="1.2"/>
<path d="M562.2 72.5 H541" stroke="#00693a" stroke-width="2.3"/>
<path d="M536.2 72.3 L544.5 68.8 L546 72.6 L544 76 Z" fill="#00a04a"/>
<text x="541.3" y="92.9" font-size="23.5" font-weight="bold" fill="#00b050" font-family="Liberation Sans">b</text>
</svg>
</body></html>
